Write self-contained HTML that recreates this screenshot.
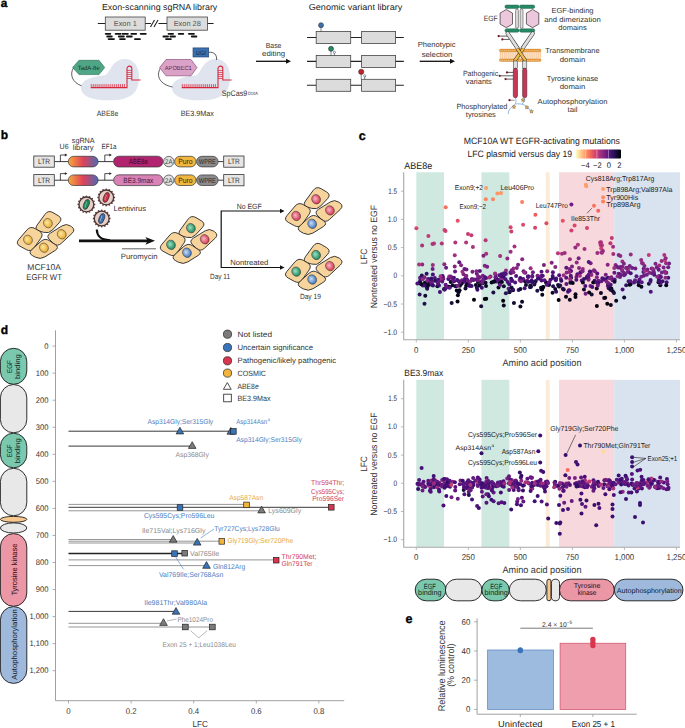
<!DOCTYPE html><html><head><meta charset="utf-8"><style>html,body{margin:0;padding:0;background:#fff;overflow:hidden;width:685px;height:728px;}svg{display:block;}</style></head><body>
<svg text-rendering="geometricPrecision" width="685" height="728" viewBox="0 0 685 728" font-family='"Liberation Sans", sans-serif'>
<defs><linearGradient id="cbar" x1="0" x2="1" y1="0" y2="0"><stop offset="0.00" stop-color="#fbfcbf"/><stop offset="0.10" stop-color="#fdcf92"/><stop offset="0.20" stop-color="#fd9f6c"/><stop offset="0.30" stop-color="#f6705b"/><stop offset="0.40" stop-color="#dd4968"/><stop offset="0.50" stop-color="#b63679"/><stop offset="0.60" stop-color="#8c2980"/><stop offset="0.70" stop-color="#63197f"/><stop offset="0.80" stop-color="#3b0f6f"/><stop offset="0.90" stop-color="#140d35"/><stop offset="1.00" stop-color="#000003"/></linearGradient><linearGradient id="sg" x1="0" x2="1"><stop offset="0" stop-color="#f6a93a"/><stop offset="0.5" stop-color="#e0405a"/><stop offset="1" stop-color="#4a6cb4"/></linearGradient><radialGradient id="ny" cx="0.45" cy="0.4" r="0.6"><stop offset="0" stop-color="#fde7a0"/><stop offset="1" stop-color="#e6a82a"/></radialGradient><radialGradient id="ng" cx="0.45" cy="0.4" r="0.6"><stop offset="0" stop-color="#9fe0c0"/><stop offset="1" stop-color="#13855a"/></radialGradient><radialGradient id="nr" cx="0.45" cy="0.4" r="0.6"><stop offset="0" stop-color="#f8b7c4"/><stop offset="1" stop-color="#d4304e"/></radialGradient><radialGradient id="nb" cx="0.45" cy="0.4" r="0.6"><stop offset="0" stop-color="#c8def6"/><stop offset="1" stop-color="#3a70bc"/></radialGradient></defs>
<rect width="685" height="728" fill="#fff"/>
<text x="0.80" y="6.60" font-size="11.80" fill="#000" font-weight="bold" stroke="#000" stroke-width="0.35">a</text>
<text x="101.90" y="10.30" font-size="8.70" fill="#222" textLength="115.40" lengthAdjust="spacingAndGlyphs">Exon-scanning sgRNA library</text>
<g stroke="#222" stroke-width="1.1" fill="none"><line x1="97.8" y1="23.5" x2="151" y2="23.5"/><line x1="158.5" y1="23.5" x2="213.6" y2="23.5"/><line x1="150.5" y1="27" x2="154.5" y2="20"/><line x1="154" y1="27" x2="158" y2="20"/></g>
<rect x="105.3" y="17" width="39.9" height="13.2" fill="#dcdcdc" stroke="#444" stroke-width="0.8"/>
<text x="125.25" y="26.20" font-size="7.40" fill="#555" text-anchor="middle">Exon 1</text>
<rect x="167" y="17" width="40.5" height="13.2" fill="#dcdcdc" stroke="#444" stroke-width="0.8"/>
<text x="187.25" y="26.20" font-size="7.40" fill="#555" text-anchor="middle">Exon 28</text>
<g stroke="#111" stroke-width="1.8" stroke-linecap="round"><line x1="105.7" y1="33.8" x2="110.3" y2="33.8"/><line x1="115.6" y1="33.8" x2="120.6" y2="33.8"/><line x1="122.5" y1="33.8" x2="127.9" y2="33.8"/><line x1="131.3" y1="33.8" x2="136.2" y2="33.8"/><line x1="140.7" y1="33.8" x2="145.8" y2="33.8"/><line x1="168.5" y1="33.8" x2="173.1" y2="33.8"/><line x1="178.7" y1="33.8" x2="183.3" y2="33.8"/><line x1="188.9" y1="33.8" x2="194.0" y2="33.8"/><line x1="107.2" y1="36.5" x2="111.8" y2="36.5"/><line x1="118.8" y1="36.5" x2="123.9" y2="36.5"/><line x1="126.9" y1="36.5" x2="131.8" y2="36.5"/><line x1="163.4" y1="36.5" x2="168.0" y2="36.5"/><line x1="170.4" y1="36.5" x2="175.0" y2="36.5"/><line x1="191.8" y1="36.5" x2="196.4" y2="36.5"/><line x1="108.6" y1="39.1" x2="114.0" y2="39.1"/><line x1="120.0" y1="39.1" x2="124.9" y2="39.1"/><line x1="134.9" y1="39.1" x2="140.0" y2="39.1"/><line x1="166.0" y1="39.1" x2="170.9" y2="39.1"/></g>
<g transform="translate(0,0)"><path d="M81,89 C80,80 92,76.5 104,75.5 C110,75 110,62 122,59.3 C132,57.5 139.5,65 139,78 C138.5,92 132,99.5 112,100.3 C92,101 82,96 81,89 Z" fill="#dfe4ef"/>
<path d="M90.8,87.6 L127,87.6 L127,80" stroke="#d8283c" stroke-width="1.1" fill="none"/>
<path d="M91.30,87.6 V84.1 M93.25,87.6 V84.1 M95.20,87.6 V84.1 M97.15,87.6 V84.1 M99.10,87.6 V84.1 M101.05,87.6 V84.1 M103.00,87.6 V84.1 M104.95,87.6 V84.1 M106.90,87.6 V84.1 M108.85,87.6 V84.1 M110.80,87.6 V84.1 M112.75,87.6 V84.1 M114.70,87.6 V84.1 M116.65,87.6 V84.1 M118.60,87.6 V84.1 M120.55,87.6 V84.1 M122.50,87.6 V84.1 M124.45,87.6 V84.1 " stroke="#d8283c" stroke-width="0.75" fill="none"/>
<path d="M127,80 V68.5 A2.4,2.4 0 0 1 131.8,68.5 V80 H140.6" stroke="#d8283c" stroke-width="1.1" fill="none"/>
<path d="M127,70.5 H131.8 M127,72.5 H131.8 M127,74.5 H131.8 M127,76.5 H131.8 M127,78.5 H131.8 " stroke="#d8283c" stroke-width="0.7"/>
</g>
<g transform="translate(91,0)"><path d="M81,89 C80,80 92,76.5 104,75.5 C110,75 110,62 122,59.3 C132,57.5 139.5,65 139,78 C138.5,92 132,99.5 112,100.3 C92,101 82,96 81,89 Z" fill="#dfe4ef"/>
<path d="M90.8,87.6 L127,87.6 L127,80" stroke="#d8283c" stroke-width="1.1" fill="none"/>
<path d="M91.30,87.6 V84.1 M93.25,87.6 V84.1 M95.20,87.6 V84.1 M97.15,87.6 V84.1 M99.10,87.6 V84.1 M101.05,87.6 V84.1 M103.00,87.6 V84.1 M104.95,87.6 V84.1 M106.90,87.6 V84.1 M108.85,87.6 V84.1 M110.80,87.6 V84.1 M112.75,87.6 V84.1 M114.70,87.6 V84.1 M116.65,87.6 V84.1 M118.60,87.6 V84.1 M120.55,87.6 V84.1 M122.50,87.6 V84.1 M124.45,87.6 V84.1 " stroke="#d8283c" stroke-width="0.75" fill="none"/>
<path d="M127,80 V68.5 A2.4,2.4 0 0 1 131.8,68.5 V80 H140.6" stroke="#d8283c" stroke-width="1.1" fill="none"/>
<path d="M127,70.5 H131.8 M127,72.5 H131.8 M127,74.5 H131.8 M127,76.5 H131.8 M127,78.5 H131.8 " stroke="#d8283c" stroke-width="0.7"/>
</g>
<path d="M73.5,68 C69.5,74 72,82.5 81.5,85.8" stroke="#333" stroke-width="0.8" fill="none"/>
<polygon points="72.6,67.5 79,60.3 99,60.3 104.7,67.5 99,74.6 79,74.6" fill="#4fa687" stroke="#2a6a52" stroke-width="0.6"/>
<text x="88.70" y="70.10" font-size="6.20" fill="#163a2c" text-anchor="middle" textLength="22.00" lengthAdjust="spacingAndGlyphs">TadA-8e</text>
<path d="M160.5,68 C155.5,76 160,84.5 172.5,87" stroke="#333" stroke-width="0.8" fill="none"/>
<polygon points="159.6,67.6 166,59.5 191,59.5 197,67.6 191,75.8 166,75.8" fill="#dba2c8" stroke="#7c3c6a" stroke-width="0.6"/>
<text x="178.30" y="70.20" font-size="6.00" fill="#5b1e4e" text-anchor="middle" textLength="27.00" lengthAdjust="spacingAndGlyphs">APOBEC1</text>
<path d="M208.7,52.3 C214,51.8 217,54.5 216.6,60" stroke="#333" stroke-width="0.8" fill="none"/>
<rect x="193" y="47.9" width="15.7" height="9.1" fill="#3a6fb0" stroke="#1d3b6a" stroke-width="0.6"/>
<text x="200.85" y="55.20" font-size="6.20" fill="#0d2445" text-anchor="middle" textLength="10.00" lengthAdjust="spacingAndGlyphs">UGI</text>
<text x="221.80" y="96.40" font-size="8.00" fill="#333" textLength="25.40" lengthAdjust="spacingAndGlyphs">SpCas9</text>
<text x="248.00" y="94.50" font-size="4.60" fill="#333" textLength="9.80" lengthAdjust="spacingAndGlyphs">D10A</text>
<text x="107.50" y="115.50" font-size="7.60" fill="#333" text-anchor="middle" textLength="21.50" lengthAdjust="spacingAndGlyphs">ABE8e</text>
<text x="197.30" y="115.50" font-size="7.60" fill="#333" text-anchor="middle" textLength="33.30" lengthAdjust="spacingAndGlyphs">BE3.9Max</text>
<text x="273.60" y="48.20" font-size="7.40" fill="#333" text-anchor="middle" textLength="15.70" lengthAdjust="spacingAndGlyphs">Base</text>
<text x="273.60" y="55.60" font-size="7.40" fill="#333" text-anchor="middle" textLength="23.00" lengthAdjust="spacingAndGlyphs">editing</text>
<line x1="256" y1="61.3" x2="287" y2="61.3" stroke="#111" stroke-width="1.3"/>
<polygon points="286,58.8 291,61.3 286,63.8" fill="#111"/>
<text x="308.70" y="10.30" font-size="8.70" fill="#222" textLength="93.60" lengthAdjust="spacingAndGlyphs">Genomic variant library</text>
<line x1="307" y1="37.5" x2="403.8" y2="37.5" stroke="#222" stroke-width="1.1"/>
<rect x="316.2" y="31.5" width="34.5" height="12" fill="#dcdcdc" stroke="#444" stroke-width="0.8"/>
<rect x="361.6" y="31.5" width="34" height="12" fill="#dcdcdc" stroke="#444" stroke-width="0.8"/>
<line x1="307" y1="61.4" x2="403.8" y2="61.4" stroke="#222" stroke-width="1.1"/>
<rect x="316.2" y="55.4" width="34.5" height="12" fill="#dcdcdc" stroke="#444" stroke-width="0.8"/>
<rect x="361.6" y="55.4" width="34" height="12" fill="#dcdcdc" stroke="#444" stroke-width="0.8"/>
<line x1="307" y1="85.3" x2="403.8" y2="85.3" stroke="#222" stroke-width="1.1"/>
<rect x="316.2" y="79.3" width="34.5" height="12" fill="#dcdcdc" stroke="#444" stroke-width="0.8"/>
<rect x="361.6" y="79.3" width="34" height="12" fill="#dcdcdc" stroke="#444" stroke-width="0.8"/>
<line x1="321" y1="25.2" x2="321" y2="31.5" stroke="#333" stroke-width="0.6"/>
<circle cx="321" cy="25.2" r="2.5" fill="#3f6fae" stroke="#222" stroke-width="0.5"/>
<line x1="331" y1="48.8" x2="331" y2="55.4" stroke="#333" stroke-width="0.6"/>
<circle cx="331" cy="48.8" r="2.5" fill="#238a60" stroke="#222" stroke-width="0.5"/>
<line x1="334.4" y1="52.3" x2="334.4" y2="55.4" stroke="#333" stroke-width="0.6"/>
<circle cx="334.4" cy="52.3" r="1.1" fill="#fff" stroke="#1d3b6a" stroke-width="0.5"/>
<line x1="361.2" y1="71.8" x2="361.2" y2="79.3" stroke="#333" stroke-width="0.6"/>
<circle cx="361.2" cy="71.8" r="2.6" fill="#c41f2b" stroke="#222" stroke-width="0.5"/>
<line x1="364.7" y1="75.8" x2="364.7" y2="79.3" stroke="#333" stroke-width="0.6"/>
<circle cx="364.7" cy="75.8" r="1.1" fill="#fff" stroke="#1d3b6a" stroke-width="0.5"/>
<text x="436.60" y="47.30" font-size="7.40" fill="#333" text-anchor="middle" textLength="37.80" lengthAdjust="spacingAndGlyphs">Phenotypic</text>
<text x="437.00" y="56.50" font-size="7.40" fill="#333" text-anchor="middle" textLength="30.70" lengthAdjust="spacingAndGlyphs">selection</text>
<line x1="419.7" y1="61.3" x2="451" y2="61.3" stroke="#111" stroke-width="1.3"/>
<polygon points="450,58.8 455,61.3 450,63.8" fill="#111"/>
<rect x="504.9" y="5" width="14.2" height="3.4" rx="1.6" fill="#268a66" stroke="#164f3b" stroke-width="0.4"/>
<rect x="504.9" y="28.8" width="14.2" height="3.4" rx="1.6" fill="#268a66" stroke="#164f3b" stroke-width="0.4"/>
<rect x="519.5" y="5" width="15.3" height="3.4" rx="1.6" fill="#268a66" stroke="#164f3b" stroke-width="0.4"/>
<rect x="519.5" y="28.8" width="15.3" height="3.4" rx="1.6" fill="#268a66" stroke="#164f3b" stroke-width="0.4"/>
<polygon points="506.3,9.5 512.5,13.1 512.5,24.1 506.3,27.7 500.1,24.1 500.1,13.1" fill="#ecc8dc" stroke="#3a2a33" stroke-width="0.7"/>
<polygon points="532.6,9.5 538.8,13.1 538.8,24.1 532.6,27.7 526.4,24.1 526.4,13.1" fill="#ecc8dc" stroke="#3a2a33" stroke-width="0.7"/>
<rect x="515.6" y="9" width="2.8" height="19.4" rx="1.4" fill="#dedede" stroke="#333" stroke-width="0.5"/>
<rect x="520.2" y="9" width="2.8" height="19.4" rx="1.4" fill="#dedede" stroke="#333" stroke-width="0.5"/>
<text x="497.70" y="21.00" font-size="7.60" fill="#333" text-anchor="end" textLength="13.90" lengthAdjust="spacingAndGlyphs">EGF</text>
<path d="M507.6,33.4 L517.6,48.2" stroke="#333" stroke-width="4.0" stroke-linecap="round"/>
<path d="M507.6,33.4 L517.6,48.2" stroke="#dedede" stroke-width="2.9" stroke-linecap="round"/>
<path d="M532.8,33.4 L522.6,48.2" stroke="#333" stroke-width="4.0" stroke-linecap="round"/>
<path d="M532.8,33.4 L522.6,48.2" stroke="#dedede" stroke-width="2.9" stroke-linecap="round"/>
<line x1="498.6" y1="36.1" x2="507.2" y2="36.1" stroke="#333" stroke-width="0.8"/>
<circle cx="498.6" cy="36.1" r="1.1" fill="#7a1020"/>
<line x1="502.3" y1="39.4" x2="509.4" y2="39.4" stroke="#333" stroke-width="0.8"/>
<circle cx="502.3" cy="39.4" r="1.1" fill="#7a1020"/>
<rect x="499.4" y="51" width="41.6" height="8.5" fill="#fde6cf"/>
<path d="M500.60,51.5 V58.8 M502.50,51.5 V58.8 M504.40,51.5 V58.8 M506.30,51.5 V58.8 M508.20,51.5 V58.8 M510.10,51.5 V58.8 M512.00,51.5 V58.8 M513.90,51.5 V58.8 M515.80,51.5 V58.8 M517.70,51.5 V58.8 M519.60,51.5 V58.8 M521.50,51.5 V58.8 M523.40,51.5 V58.8 M525.30,51.5 V58.8 M527.20,51.5 V58.8 M529.10,51.5 V58.8 M531.00,51.5 V58.8 M532.90,51.5 V58.8 M534.80,51.5 V58.8 M536.70,51.5 V58.8 M538.60,51.5 V58.8 M540.50,51.5 V58.8 " stroke="#f4b47a" stroke-width="0.55"/>
<rect x="499.4" y="49.1" width="41.6" height="2.6" rx="1.3" fill="#e89a3a" stroke="#b86a1a" stroke-width="0.3"/>
<circle cx="500.80" cy="50.4" r="0.45" fill="#fff1c8"/><circle cx="502.70" cy="50.4" r="0.45" fill="#fff1c8"/><circle cx="504.60" cy="50.4" r="0.45" fill="#fff1c8"/><circle cx="506.50" cy="50.4" r="0.45" fill="#fff1c8"/><circle cx="508.40" cy="50.4" r="0.45" fill="#fff1c8"/><circle cx="510.30" cy="50.4" r="0.45" fill="#fff1c8"/><circle cx="512.20" cy="50.4" r="0.45" fill="#fff1c8"/><circle cx="514.10" cy="50.4" r="0.45" fill="#fff1c8"/><circle cx="516.00" cy="50.4" r="0.45" fill="#fff1c8"/><circle cx="517.90" cy="50.4" r="0.45" fill="#fff1c8"/><circle cx="519.80" cy="50.4" r="0.45" fill="#fff1c8"/><circle cx="521.70" cy="50.4" r="0.45" fill="#fff1c8"/><circle cx="523.60" cy="50.4" r="0.45" fill="#fff1c8"/><circle cx="525.50" cy="50.4" r="0.45" fill="#fff1c8"/><circle cx="527.40" cy="50.4" r="0.45" fill="#fff1c8"/><circle cx="529.30" cy="50.4" r="0.45" fill="#fff1c8"/><circle cx="531.20" cy="50.4" r="0.45" fill="#fff1c8"/><circle cx="533.10" cy="50.4" r="0.45" fill="#fff1c8"/><circle cx="535.00" cy="50.4" r="0.45" fill="#fff1c8"/><circle cx="536.90" cy="50.4" r="0.45" fill="#fff1c8"/><circle cx="538.80" cy="50.4" r="0.45" fill="#fff1c8"/>
<rect x="499.4" y="58.900000000000006" width="41.6" height="2.6" rx="1.3" fill="#e89a3a" stroke="#b86a1a" stroke-width="0.3"/>
<circle cx="500.80" cy="60.2" r="0.45" fill="#fff1c8"/><circle cx="502.70" cy="60.2" r="0.45" fill="#fff1c8"/><circle cx="504.60" cy="60.2" r="0.45" fill="#fff1c8"/><circle cx="506.50" cy="60.2" r="0.45" fill="#fff1c8"/><circle cx="508.40" cy="60.2" r="0.45" fill="#fff1c8"/><circle cx="510.30" cy="60.2" r="0.45" fill="#fff1c8"/><circle cx="512.20" cy="60.2" r="0.45" fill="#fff1c8"/><circle cx="514.10" cy="60.2" r="0.45" fill="#fff1c8"/><circle cx="516.00" cy="60.2" r="0.45" fill="#fff1c8"/><circle cx="517.90" cy="60.2" r="0.45" fill="#fff1c8"/><circle cx="519.80" cy="60.2" r="0.45" fill="#fff1c8"/><circle cx="521.70" cy="60.2" r="0.45" fill="#fff1c8"/><circle cx="523.60" cy="60.2" r="0.45" fill="#fff1c8"/><circle cx="525.50" cy="60.2" r="0.45" fill="#fff1c8"/><circle cx="527.40" cy="60.2" r="0.45" fill="#fff1c8"/><circle cx="529.30" cy="60.2" r="0.45" fill="#fff1c8"/><circle cx="531.20" cy="60.2" r="0.45" fill="#fff1c8"/><circle cx="533.10" cy="60.2" r="0.45" fill="#fff1c8"/><circle cx="535.00" cy="60.2" r="0.45" fill="#fff1c8"/><circle cx="536.90" cy="60.2" r="0.45" fill="#fff1c8"/><circle cx="538.80" cy="60.2" r="0.45" fill="#fff1c8"/>
<path d="M523.2,48.6 L514.6,61" stroke="#3a2a10" stroke-width="3.4"/>
<path d="M523.2,48.6 L514.6,61" stroke="#f0be4c" stroke-width="2.4"/>
<path d="M517.2,48.6 L525.8,61" stroke="#3a2a10" stroke-width="3.4"/>
<path d="M517.2,48.6 L525.8,61" stroke="#f0be4c" stroke-width="2.4"/>
<rect x="513.3" y="61" width="4.2" height="7.4" fill="#dedede" stroke="#333" stroke-width="0.5"/>
<rect x="513.3" y="68.2" width="4.2" height="29.6" rx="2.1" fill="#c8365a" stroke="#3a1018" stroke-width="0.5"/>
<rect x="522.6" y="61" width="4.2" height="7.4" fill="#dedede" stroke="#333" stroke-width="0.5"/>
<rect x="522.6" y="68.2" width="4.2" height="29.6" rx="2.1" fill="#c8365a" stroke="#3a1018" stroke-width="0.5"/>
<line x1="507" y1="72.4" x2="513.3" y2="72.4" stroke="#333" stroke-width="0.8"/>
<circle cx="507" cy="72.4" r="1.1" fill="#7a1020"/>
<line x1="499.7" y1="75.8" x2="513.3" y2="75.8" stroke="#333" stroke-width="0.8"/>
<circle cx="499.7" cy="75.8" r="1.1" fill="#7a1020"/>
<line x1="505.5" y1="79.1" x2="513.3" y2="79.1" stroke="#333" stroke-width="0.8"/>
<circle cx="505.5" cy="79.1" r="1.1" fill="#7a1020"/>
<path d="M515.5,98 C516.5,102 516,104 512.5,106.5 C509.5,108.5 508.2,111 508.2,114" stroke="#4a8ad0" stroke-width="0.6" fill="none"/>
<path d="M515.5,104 C520,103.5 524,104 527,107 L532.5,112" stroke="#4a8ad0" stroke-width="0.6" fill="none"/>
<path d="M524.7,98 C524.7,100 524.5,102 522,104" stroke="#4a8ad0" stroke-width="0.6" fill="none"/>
<line x1="510" y1="100.2" x2="514.5" y2="100.2" stroke="#444" stroke-width="0.6"/><circle cx="509.5" cy="100.2" r="1.1" fill="#7a1020"/>
<polygon points="514.00,104.90 514.53,106.17 515.90,106.28 514.86,107.18 515.18,108.52 514.00,107.80 512.82,108.52 513.14,107.18 512.10,106.28 513.47,106.17" fill="#f0c050" stroke="#5a3a10" stroke-width="0.4"/>
<polygon points="523.00,98.00 523.53,99.27 524.90,99.38 523.86,100.28 524.18,101.62 523.00,100.90 521.82,101.62 522.14,100.28 521.10,99.38 522.47,99.27" fill="#f0c050" stroke="#5a3a10" stroke-width="0.4"/>
<polygon points="526.90,105.40 527.43,106.67 528.80,106.78 527.76,107.68 528.08,109.02 526.90,108.30 525.72,109.02 526.04,107.68 525.00,106.78 526.37,106.67" fill="#f0c050" stroke="#5a3a10" stroke-width="0.4"/>
<polygon points="531.50,109.50 532.03,110.77 533.40,110.88 532.36,111.78 532.68,113.12 531.50,112.40 530.32,113.12 530.64,111.78 529.60,110.88 530.97,110.77" fill="#f0c050" stroke="#5a3a10" stroke-width="0.4"/>
<text x="498.20" y="76.30" font-size="7.56" fill="#333" text-anchor="end" textLength="35.30" lengthAdjust="spacingAndGlyphs">Pathogenic</text>
<text x="478.80" y="84.40" font-size="7.56" fill="#333" text-anchor="middle" textLength="26.00" lengthAdjust="spacingAndGlyphs">variants</text>
<text x="507.40" y="109.00" font-size="7.56" fill="#333" text-anchor="end" textLength="51.00" lengthAdjust="spacingAndGlyphs">Phosphorylated</text>
<text x="480.80" y="116.50" font-size="7.56" fill="#333" text-anchor="middle" textLength="30.00" lengthAdjust="spacingAndGlyphs">tyrosines</text>
<text x="572.50" y="13.30" font-size="7.30" fill="#333" text-anchor="middle" textLength="42.00" lengthAdjust="spacingAndGlyphs">EGF-binding</text>
<text x="572.50" y="21.80" font-size="7.30" fill="#333" text-anchor="middle" textLength="56.70" lengthAdjust="spacingAndGlyphs">and dimerization</text>
<text x="572.50" y="30.40" font-size="7.30" fill="#333" text-anchor="middle" textLength="28.50" lengthAdjust="spacingAndGlyphs">domains</text>
<text x="572.50" y="53.20" font-size="7.30" fill="#333" text-anchor="middle" textLength="54.30" lengthAdjust="spacingAndGlyphs">Transmembrane</text>
<text x="572.50" y="61.70" font-size="7.30" fill="#333" text-anchor="middle" textLength="25.50" lengthAdjust="spacingAndGlyphs">domain</text>
<text x="572.50" y="81.00" font-size="7.30" fill="#333" text-anchor="middle" textLength="51.40" lengthAdjust="spacingAndGlyphs">Tyrosine kinase</text>
<text x="572.50" y="89.40" font-size="7.30" fill="#333" text-anchor="middle" textLength="25.50" lengthAdjust="spacingAndGlyphs">domain</text>
<text x="572.50" y="103.80" font-size="7.30" fill="#333" text-anchor="middle" textLength="69.80" lengthAdjust="spacingAndGlyphs">Autophosphorylation</text>
<text x="572.50" y="112.10" font-size="7.30" fill="#333" text-anchor="middle" textLength="10.00" lengthAdjust="spacingAndGlyphs">tail</text>
<text x="0.80" y="139.40" font-size="12.00" fill="#000" font-weight="bold" stroke="#000" stroke-width="0.35">b</text>
<line x1="54.3" y1="161.6" x2="68.3" y2="161.6" stroke="#222" stroke-width="0.9"/>
<line x1="98" y1="161.6" x2="113.6" y2="161.6" stroke="#222" stroke-width="0.9"/>
<line x1="218" y1="161.6" x2="223.7" y2="161.6" stroke="#222" stroke-width="0.9"/>
<rect x="33.8" y="156.0" width="20.5" height="11.2" fill="#e6e6e6" stroke="#333" stroke-width="0.8"/>
<text x="44.00" y="164.20" font-size="7.70" fill="#333" text-anchor="middle" textLength="12.00" lengthAdjust="spacingAndGlyphs">LTR</text>
<rect x="223.7" y="156.0" width="20.3" height="11.2" fill="#e6e6e6" stroke="#333" stroke-width="0.8"/>
<text x="233.90" y="164.20" font-size="7.70" fill="#333" text-anchor="middle" textLength="12.00" lengthAdjust="spacingAndGlyphs">LTR</text>
<path d="M60.4,161.6 V155.0 H65.4" stroke="#222" stroke-width="0.8" fill="none"/>
<polygon points="64.9,153.6 67.4,155.0 64.9,156.4" fill="#222"/>
<path d="M104.8,161.6 V155.0 H109.8" stroke="#222" stroke-width="0.8" fill="none"/>
<polygon points="109.3,153.6 111.8,155.0 109.3,156.4" fill="#222"/>
<rect x="68.3" y="156.29999999999998" width="29.8" height="10.6" rx="5.3" fill="url(#sg)" stroke="#333" stroke-width="0.7"/>
<rect x="113.6" y="156.2" width="49.4" height="10.8" rx="5.4" fill="#b2246f" stroke="#333" stroke-width="0.7"/>
<text x="138.30" y="164.10" font-size="7.49" fill="#3a0a25" text-anchor="middle" textLength="19.00" lengthAdjust="spacingAndGlyphs">ABE8e</text>
<circle cx="168.8" cy="161.6" r="5.2" fill="#e2e2e2" stroke="#333" stroke-width="0.7"/>
<text x="168.80" y="164.00" font-size="6.96" fill="#333" text-anchor="middle" textLength="7.50" lengthAdjust="spacingAndGlyphs">2A</text>
<rect x="174.6" y="156.29999999999998" width="21.5" height="10.6" rx="5.3" fill="#f2b53e" stroke="#333" stroke-width="0.7"/>
<text x="185.40" y="164.10" font-size="7.49" fill="#3a2a00" text-anchor="middle" textLength="14.50" lengthAdjust="spacingAndGlyphs">Puro</text>
<rect x="196.6" y="156.29999999999998" width="21.5" height="10.6" rx="5.3" fill="#8c8c8c" stroke="#333" stroke-width="0.7"/>
<text x="207.30" y="164.10" font-size="6.96" fill="#222" text-anchor="middle" textLength="17.00" lengthAdjust="spacingAndGlyphs">WPRE</text>
<line x1="54.3" y1="180.2" x2="68.3" y2="180.2" stroke="#222" stroke-width="0.9"/>
<line x1="98" y1="180.2" x2="113.6" y2="180.2" stroke="#222" stroke-width="0.9"/>
<line x1="218" y1="180.2" x2="223.7" y2="180.2" stroke="#222" stroke-width="0.9"/>
<rect x="33.8" y="174.6" width="20.5" height="11.2" fill="#e6e6e6" stroke="#333" stroke-width="0.8"/>
<text x="44.00" y="182.80" font-size="7.70" fill="#333" text-anchor="middle" textLength="12.00" lengthAdjust="spacingAndGlyphs">LTR</text>
<rect x="223.7" y="174.6" width="20.3" height="11.2" fill="#e6e6e6" stroke="#333" stroke-width="0.8"/>
<text x="233.90" y="182.80" font-size="7.70" fill="#333" text-anchor="middle" textLength="12.00" lengthAdjust="spacingAndGlyphs">LTR</text>
<path d="M60.4,180.2 V173.6 H65.4" stroke="#222" stroke-width="0.8" fill="none"/>
<polygon points="64.9,172.2 67.4,173.6 64.9,175.0" fill="#222"/>
<path d="M104.8,180.2 V173.6 H109.8" stroke="#222" stroke-width="0.8" fill="none"/>
<polygon points="109.3,172.2 111.8,173.6 109.3,175.0" fill="#222"/>
<rect x="68.3" y="174.89999999999998" width="29.8" height="10.6" rx="5.3" fill="url(#sg)" stroke="#333" stroke-width="0.7"/>
<rect x="113.6" y="174.79999999999998" width="49.4" height="10.8" rx="5.4" fill="#d882b6" stroke="#333" stroke-width="0.7"/>
<text x="138.30" y="182.70" font-size="7.49" fill="#4a1a3a" text-anchor="middle" textLength="30.00" lengthAdjust="spacingAndGlyphs">BE3.9max</text>
<circle cx="168.8" cy="180.2" r="5.2" fill="#e2e2e2" stroke="#333" stroke-width="0.7"/>
<text x="168.80" y="182.60" font-size="6.96" fill="#333" text-anchor="middle" textLength="7.50" lengthAdjust="spacingAndGlyphs">2A</text>
<rect x="174.6" y="174.89999999999998" width="21.5" height="10.6" rx="5.3" fill="#f2b53e" stroke="#333" stroke-width="0.7"/>
<text x="185.40" y="182.70" font-size="7.49" fill="#3a2a00" text-anchor="middle" textLength="14.50" lengthAdjust="spacingAndGlyphs">Puro</text>
<rect x="196.6" y="174.89999999999998" width="21.5" height="10.6" rx="5.3" fill="#8c8c8c" stroke="#333" stroke-width="0.7"/>
<text x="207.30" y="182.70" font-size="6.96" fill="#222" text-anchor="middle" textLength="17.00" lengthAdjust="spacingAndGlyphs">WPRE</text>
<text x="64.10" y="148.90" font-size="7.49" fill="#333" text-anchor="middle" textLength="9.00" lengthAdjust="spacingAndGlyphs">U6</text>
<text x="83.20" y="142.80" font-size="7.49" fill="#333" text-anchor="middle" textLength="22.80" lengthAdjust="spacingAndGlyphs">sgRNA</text>
<text x="83.20" y="150.30" font-size="7.49" fill="#333" text-anchor="middle" textLength="21.00" lengthAdjust="spacingAndGlyphs">library</text>
<text x="109.00" y="148.90" font-size="7.49" fill="#333" text-anchor="middle" textLength="14.90" lengthAdjust="spacingAndGlyphs">EF1a</text>
<circle cx="94.50" cy="204.40" r="0.9" fill="#6a4a4a"/><circle cx="93.88" cy="207.50" r="0.9" fill="#6a4a4a"/><circle cx="92.13" cy="210.13" r="0.9" fill="#6a4a4a"/><circle cx="89.50" cy="211.88" r="0.9" fill="#6a4a4a"/><circle cx="86.40" cy="212.50" r="0.9" fill="#6a4a4a"/><circle cx="83.30" cy="211.88" r="0.9" fill="#6a4a4a"/><circle cx="80.67" cy="210.13" r="0.9" fill="#6a4a4a"/><circle cx="78.92" cy="207.50" r="0.9" fill="#6a4a4a"/><circle cx="78.30" cy="204.40" r="0.9" fill="#6a4a4a"/><circle cx="78.92" cy="201.30" r="0.9" fill="#6a4a4a"/><circle cx="80.67" cy="198.67" r="0.9" fill="#6a4a4a"/><circle cx="83.30" cy="196.92" r="0.9" fill="#6a4a4a"/><circle cx="86.40" cy="196.30" r="0.9" fill="#6a4a4a"/><circle cx="89.50" cy="196.92" r="0.9" fill="#6a4a4a"/><circle cx="92.13" cy="198.67" r="0.9" fill="#6a4a4a"/><circle cx="93.88" cy="201.30" r="0.9" fill="#6a4a4a"/>
<circle cx="86.4" cy="204.4" r="7.4" fill="#e7cfc9" stroke="#4a3535" stroke-width="1.3"/>
<ellipse cx="86.4" cy="204.4" rx="2.6" ry="5.2" fill="#1f8a5e" stroke="#222" stroke-width="0.6" transform="rotate(20 86.4 204.4)"/>
<path d="M85.80000000000001,201.4 q1.5,1.5 0,3 q-1.5,1.5 0,3" stroke="#fff" stroke-width="0.5" fill="none" opacity="0.8"/>
<circle cx="114.30" cy="197.40" r="0.9" fill="#6a4a4a"/><circle cx="113.68" cy="200.50" r="0.9" fill="#6a4a4a"/><circle cx="111.93" cy="203.13" r="0.9" fill="#6a4a4a"/><circle cx="109.30" cy="204.88" r="0.9" fill="#6a4a4a"/><circle cx="106.20" cy="205.50" r="0.9" fill="#6a4a4a"/><circle cx="103.10" cy="204.88" r="0.9" fill="#6a4a4a"/><circle cx="100.47" cy="203.13" r="0.9" fill="#6a4a4a"/><circle cx="98.72" cy="200.50" r="0.9" fill="#6a4a4a"/><circle cx="98.10" cy="197.40" r="0.9" fill="#6a4a4a"/><circle cx="98.72" cy="194.30" r="0.9" fill="#6a4a4a"/><circle cx="100.47" cy="191.67" r="0.9" fill="#6a4a4a"/><circle cx="103.10" cy="189.92" r="0.9" fill="#6a4a4a"/><circle cx="106.20" cy="189.30" r="0.9" fill="#6a4a4a"/><circle cx="109.30" cy="189.92" r="0.9" fill="#6a4a4a"/><circle cx="111.93" cy="191.67" r="0.9" fill="#6a4a4a"/><circle cx="113.68" cy="194.30" r="0.9" fill="#6a4a4a"/>
<circle cx="106.2" cy="197.4" r="7.4" fill="#e7cfc9" stroke="#4a3535" stroke-width="1.3"/>
<ellipse cx="106.2" cy="197.4" rx="2.6" ry="5.2" fill="#c83048" stroke="#222" stroke-width="0.6" transform="rotate(20 106.2 197.4)"/>
<path d="M105.60000000000001,194.4 q1.5,1.5 0,3 q-1.5,1.5 0,3" stroke="#fff" stroke-width="0.5" fill="none" opacity="0.8"/>
<circle cx="109.80" cy="218.50" r="0.9" fill="#6a4a4a"/><circle cx="109.18" cy="221.60" r="0.9" fill="#6a4a4a"/><circle cx="107.43" cy="224.23" r="0.9" fill="#6a4a4a"/><circle cx="104.80" cy="225.98" r="0.9" fill="#6a4a4a"/><circle cx="101.70" cy="226.60" r="0.9" fill="#6a4a4a"/><circle cx="98.60" cy="225.98" r="0.9" fill="#6a4a4a"/><circle cx="95.97" cy="224.23" r="0.9" fill="#6a4a4a"/><circle cx="94.22" cy="221.60" r="0.9" fill="#6a4a4a"/><circle cx="93.60" cy="218.50" r="0.9" fill="#6a4a4a"/><circle cx="94.22" cy="215.40" r="0.9" fill="#6a4a4a"/><circle cx="95.97" cy="212.77" r="0.9" fill="#6a4a4a"/><circle cx="98.60" cy="211.02" r="0.9" fill="#6a4a4a"/><circle cx="101.70" cy="210.40" r="0.9" fill="#6a4a4a"/><circle cx="104.80" cy="211.02" r="0.9" fill="#6a4a4a"/><circle cx="107.43" cy="212.77" r="0.9" fill="#6a4a4a"/><circle cx="109.18" cy="215.40" r="0.9" fill="#6a4a4a"/>
<circle cx="101.7" cy="218.5" r="7.4" fill="#e7cfc9" stroke="#4a3535" stroke-width="1.3"/>
<ellipse cx="101.7" cy="218.5" rx="2.6" ry="5.2" fill="#3a6fb0" stroke="#222" stroke-width="0.6" transform="rotate(20 101.7 218.5)"/>
<path d="M101.10000000000001,215.5 q1.5,1.5 0,3 q-1.5,1.5 0,3" stroke="#fff" stroke-width="0.5" fill="none" opacity="0.8"/>
<text x="113.60" y="211.40" font-size="7.70" fill="#333" textLength="32.40" lengthAdjust="spacingAndGlyphs">Lentivirus</text>
<path d="M96.8,229.5 C97,236 100,239.8 110,240.4" stroke="#111" stroke-width="2.2" fill="none"/>
<line x1="79" y1="240.8" x2="149" y2="240.8" stroke="#111" stroke-width="2.8"/>
<polygon points="145.3,236.9 155,240.8 145.3,244.7 147.8,240.8" fill="#111"/>
<line x1="122" y1="248.8" x2="156" y2="248.8" stroke="#222" stroke-width="0.7"/>
<text x="139.20" y="258.70" font-size="7.70" fill="#333" text-anchor="middle" textLength="36.80" lengthAdjust="spacingAndGlyphs">Puromycin</text>
<text x="44.10" y="269.80" font-size="8.56" fill="#333" text-anchor="middle" textLength="33.50" lengthAdjust="spacingAndGlyphs">MCF10A</text>
<text x="44.10" y="279.60" font-size="8.56" fill="#333" text-anchor="middle" textLength="35.50" lengthAdjust="spacingAndGlyphs">EGFR WT</text>
<g transform="translate(44.7,235.7)"><path d="M0.31,-21.44 Q3.56,-25.88 8.28,-23.08 L13.59,-19.93 Q18.31,-17.12 14.59,-13.08 L7.88,-5.81 Q4.15,-1.77 -1.10,-3.38 L-5.47,-4.71 Q-10.72,-6.33 -7.48,-10.77 Z" fill="#f7d49c" stroke="#1a1a1a" stroke-width="0.85"/><ellipse cx="3.21" cy="-12.54" rx="4.3" ry="4.8" fill="url(#ny)" stroke="#333" stroke-width="0.5" transform="rotate(-30 3.21 -12.54)"/><path d="M-24.67,10.52 Q-29.49,7.89 -25.91,3.72 L-17.84,-5.70 Q-14.26,-9.87 -9.51,-7.10 L-5.44,-4.72 Q-0.70,-1.95 -3.85,2.55 L-10.50,12.03 Q-13.66,16.53 -18.48,13.90 Z" fill="#f7d49c" stroke="#1a1a1a" stroke-width="0.85"/><ellipse cx="-16.71" cy="4.12" rx="4.3" ry="4.8" fill="url(#ny)" stroke="#333" stroke-width="0.5" transform="rotate(-30 -16.71 4.12)"/><path d="M4.98,4.12 Q0.99,0.34 5.66,-2.56 L17.46,-9.88 Q21.87,-12.62 26.07,-9.57 L26.91,-8.95 Q31.11,-5.90 27.32,-2.35 L16.65,7.62 Q12.63,11.38 8.64,7.60 Z" fill="#f7d49c" stroke="#1a1a1a" stroke-width="0.85"/><ellipse cx="17.02" cy="-1.40" rx="4.3" ry="4.8" fill="url(#ny)" stroke="#333" stroke-width="0.5" transform="rotate(-30 17.02 -1.40)"/><path d="M-12.03,20.02 Q-16.86,17.39 -12.76,13.72 L-3.80,5.70 Q0.30,2.03 4.88,5.08 L10.48,8.82 Q15.06,11.87 10.40,14.79 L0.16,21.19 Q-4.50,24.11 -9.33,21.48 Z" fill="#f7d49c" stroke="#1a1a1a" stroke-width="0.85"/><ellipse cx="-0.75" cy="12.02" rx="4.3" ry="4.8" fill="url(#ny)" stroke="#333" stroke-width="0.5" transform="rotate(-30 -0.75 12.02)"/></g>
<g transform="translate(187.7,240.7)"><path d="M0.31,-21.44 Q3.56,-25.88 8.28,-23.08 L13.59,-19.93 Q18.31,-17.12 14.59,-13.08 L7.88,-5.81 Q4.15,-1.77 -1.10,-3.38 L-5.47,-4.71 Q-10.72,-6.33 -7.48,-10.77 Z" fill="#f7d49c" stroke="#1a1a1a" stroke-width="0.85"/><ellipse cx="3.21" cy="-12.54" rx="4.3" ry="4.8" fill="url(#ng)" stroke="#333" stroke-width="0.5" transform="rotate(-30 3.21 -12.54)"/><path d="M-24.67,10.52 Q-29.49,7.89 -25.91,3.72 L-17.84,-5.70 Q-14.26,-9.87 -9.51,-7.10 L-5.44,-4.72 Q-0.70,-1.95 -3.85,2.55 L-10.50,12.03 Q-13.66,16.53 -18.48,13.90 Z" fill="#f7d49c" stroke="#1a1a1a" stroke-width="0.85"/><ellipse cx="-16.71" cy="4.12" rx="4.3" ry="4.8" fill="url(#ng)" stroke="#333" stroke-width="0.5" transform="rotate(-30 -16.71 4.12)"/><path d="M4.98,4.12 Q0.99,0.34 5.66,-2.56 L17.46,-9.88 Q21.87,-12.62 26.07,-9.57 L26.91,-8.95 Q31.11,-5.90 27.32,-2.35 L16.65,7.62 Q12.63,11.38 8.64,7.60 Z" fill="#f7d49c" stroke="#1a1a1a" stroke-width="0.85"/><ellipse cx="17.02" cy="-1.40" rx="4.3" ry="4.8" fill="url(#nr)" stroke="#333" stroke-width="0.5" transform="rotate(-30 17.02 -1.40)"/><path d="M-12.03,20.02 Q-16.86,17.39 -12.76,13.72 L-3.80,5.70 Q0.30,2.03 4.88,5.08 L10.48,8.82 Q15.06,11.87 10.40,14.79 L0.16,21.19 Q-4.50,24.11 -9.33,21.48 Z" fill="#f7d49c" stroke="#1a1a1a" stroke-width="0.85"/><ellipse cx="-0.75" cy="12.02" rx="4.3" ry="4.8" fill="url(#nb)" stroke="#333" stroke-width="0.5" transform="rotate(-30 -0.75 12.02)"/></g>
<g transform="translate(312.9,211.8)"><path d="M0.31,-21.44 Q3.56,-25.88 8.28,-23.08 L13.59,-19.93 Q18.31,-17.12 14.59,-13.08 L7.88,-5.81 Q4.15,-1.77 -1.10,-3.38 L-5.47,-4.71 Q-10.72,-6.33 -7.48,-10.77 Z" fill="#f7d49c" stroke="#1a1a1a" stroke-width="0.85"/><ellipse cx="3.21" cy="-12.54" rx="4.3" ry="4.8" fill="url(#nr)" stroke="#333" stroke-width="0.5" transform="rotate(-30 3.21 -12.54)"/><path d="M-24.67,10.52 Q-29.49,7.89 -25.91,3.72 L-17.84,-5.70 Q-14.26,-9.87 -9.51,-7.10 L-5.44,-4.72 Q-0.70,-1.95 -3.85,2.55 L-10.50,12.03 Q-13.66,16.53 -18.48,13.90 Z" fill="#f7d49c" stroke="#1a1a1a" stroke-width="0.85"/><ellipse cx="-16.71" cy="4.12" rx="4.3" ry="4.8" fill="url(#nr)" stroke="#333" stroke-width="0.5" transform="rotate(-30 -16.71 4.12)"/><path d="M4.98,4.12 Q0.99,0.34 5.66,-2.56 L17.46,-9.88 Q21.87,-12.62 26.07,-9.57 L26.91,-8.95 Q31.11,-5.90 27.32,-2.35 L16.65,7.62 Q12.63,11.38 8.64,7.60 Z" fill="#f7d49c" stroke="#1a1a1a" stroke-width="0.85"/><ellipse cx="17.02" cy="-1.40" rx="4.3" ry="4.8" fill="url(#nr)" stroke="#333" stroke-width="0.5" transform="rotate(-30 17.02 -1.40)"/><path d="M-12.03,20.02 Q-16.86,17.39 -12.76,13.72 L-3.80,5.70 Q0.30,2.03 4.88,5.08 L10.48,8.82 Q15.06,11.87 10.40,14.79 L0.16,21.19 Q-4.50,24.11 -9.33,21.48 Z" fill="#f7d49c" stroke="#1a1a1a" stroke-width="0.85"/><ellipse cx="-0.75" cy="12.02" rx="4.3" ry="4.8" fill="url(#nb)" stroke="#333" stroke-width="0.5" transform="rotate(-30 -0.75 12.02)"/></g>
<g transform="translate(312.9,267.5)"><path d="M0.31,-21.44 Q3.56,-25.88 8.28,-23.08 L13.59,-19.93 Q18.31,-17.12 14.59,-13.08 L7.88,-5.81 Q4.15,-1.77 -1.10,-3.38 L-5.47,-4.71 Q-10.72,-6.33 -7.48,-10.77 Z" fill="#f7d49c" stroke="#1a1a1a" stroke-width="0.85"/><ellipse cx="3.21" cy="-12.54" rx="4.3" ry="4.8" fill="url(#ng)" stroke="#333" stroke-width="0.5" transform="rotate(-30 3.21 -12.54)"/><path d="M-24.67,10.52 Q-29.49,7.89 -25.91,3.72 L-17.84,-5.70 Q-14.26,-9.87 -9.51,-7.10 L-5.44,-4.72 Q-0.70,-1.95 -3.85,2.55 L-10.50,12.03 Q-13.66,16.53 -18.48,13.90 Z" fill="#f7d49c" stroke="#1a1a1a" stroke-width="0.85"/><ellipse cx="-16.71" cy="4.12" rx="4.3" ry="4.8" fill="url(#ng)" stroke="#333" stroke-width="0.5" transform="rotate(-30 -16.71 4.12)"/><path d="M4.98,4.12 Q0.99,0.34 5.66,-2.56 L17.46,-9.88 Q21.87,-12.62 26.07,-9.57 L26.91,-8.95 Q31.11,-5.90 27.32,-2.35 L16.65,7.62 Q12.63,11.38 8.64,7.60 Z" fill="#f7d49c" stroke="#1a1a1a" stroke-width="0.85"/><ellipse cx="17.02" cy="-1.40" rx="4.3" ry="4.8" fill="url(#nr)" stroke="#333" stroke-width="0.5" transform="rotate(-30 17.02 -1.40)"/><path d="M-12.03,20.02 Q-16.86,17.39 -12.76,13.72 L-3.80,5.70 Q0.30,2.03 4.88,5.08 L10.48,8.82 Q15.06,11.87 10.40,14.79 L0.16,21.19 Q-4.50,24.11 -9.33,21.48 Z" fill="#f7d49c" stroke="#1a1a1a" stroke-width="0.85"/><ellipse cx="-0.75" cy="12.02" rx="4.3" ry="4.8" fill="url(#nb)" stroke="#333" stroke-width="0.5" transform="rotate(-30 -0.75 12.02)"/></g>
<path d="M282,211 H221.2 V267.5 H282" stroke="#111" stroke-width="1.2" fill="none"/>
<polygon points="280,208.8 284.5,211 280,213.2" fill="#111"/>
<polygon points="280,265.3 284.5,267.5 280,269.7" fill="#111"/>
<text x="249.20" y="208.80" font-size="7.49" fill="#333" text-anchor="middle" textLength="25.00" lengthAdjust="spacingAndGlyphs">No EGF</text>
<text x="249.20" y="265.00" font-size="7.49" fill="#333" text-anchor="middle" textLength="38.00" lengthAdjust="spacingAndGlyphs">Nontreated</text>
<text x="220.00" y="279.20" font-size="7.49" fill="#333" text-anchor="middle" textLength="20.00" lengthAdjust="spacingAndGlyphs">Day 11</text>
<text x="310.40" y="299.20" font-size="7.49" fill="#333" text-anchor="middle" textLength="21.00" lengthAdjust="spacingAndGlyphs">Day 19</text>
<text x="358.80" y="139.80" font-size="12.50" fill="#000" font-weight="bold" stroke="#000" stroke-width="0.35">c</text>
<text x="463.70" y="143.80" font-size="9.20" fill="#222" textLength="156.30" lengthAdjust="spacingAndGlyphs">MCF10A WT EGFR-activating mutations</text>
<text x="467.40" y="157.00" font-size="9.20" fill="#222" textLength="104.80" lengthAdjust="spacingAndGlyphs">LFC plasmid versus day 19</text>
<rect x="576" y="149.6" width="45" height="8.8" rx="1" fill="url(#cbar)"/>
<g stroke="#fff" stroke-width="0.5" opacity="0.8"><line x1="585.3" y1="149.6" x2="585.3" y2="158.4"/><line x1="596.9" y1="149.6" x2="596.9" y2="158.4"/><line x1="608.6" y1="149.6" x2="608.6" y2="158.4"/></g>
<text x="585.30" y="167.50" font-size="8.13" fill="#222" text-anchor="middle" textLength="8.67" lengthAdjust="spacingAndGlyphs">−4</text>
<text x="597.30" y="167.50" font-size="8.13" fill="#222" text-anchor="middle" textLength="8.67" lengthAdjust="spacingAndGlyphs">−2</text>
<text x="608.80" y="167.50" font-size="8.13" fill="#222" text-anchor="middle" textLength="4.23" lengthAdjust="spacingAndGlyphs">0</text>
<text x="619.40" y="167.50" font-size="8.13" fill="#222" text-anchor="middle" textLength="4.23" lengthAdjust="spacingAndGlyphs">2</text>
<rect x="416.30" y="172.3" width="27.68" height="167.4" fill="#cfe8e0"/>
<rect x="481.44" y="172.3" width="27.89" height="167.4" fill="#cfe8e0"/>
<rect x="545.74" y="172.3" width="3.95" height="167.4" fill="#fcebd6"/>
<rect x="559.06" y="172.3" width="55.15" height="167.4" fill="#f7d8dc"/>
<rect x="614.20" y="172.3" width="65.76" height="167.4" fill="#d9e3ef"/>
<path d="M403.7,172.3 V339.7 H680" stroke="#a8a8a8" stroke-width="1.1" fill="none"/>
<line x1="400.9" y1="191.20" x2="403.7" y2="191.20" stroke="#a8a8a8" stroke-width="0.8"/>
<text x="397.00" y="193.70" font-size="7.92" fill="#333" text-anchor="end" textLength="8.70" lengthAdjust="spacingAndGlyphs">1.5</text>
<line x1="400.9" y1="219.40" x2="403.7" y2="219.40" stroke="#a8a8a8" stroke-width="0.8"/>
<text x="397.00" y="221.90" font-size="7.92" fill="#333" text-anchor="end" textLength="9.30" lengthAdjust="spacingAndGlyphs">1.0</text>
<line x1="400.9" y1="247.60" x2="403.7" y2="247.60" stroke="#a8a8a8" stroke-width="0.8"/>
<text x="397.00" y="250.10" font-size="7.92" fill="#333" text-anchor="end" textLength="9.30" lengthAdjust="spacingAndGlyphs">0.5</text>
<line x1="400.9" y1="275.80" x2="403.7" y2="275.80" stroke="#a8a8a8" stroke-width="0.8"/>
<text x="397.00" y="278.30" font-size="7.92" fill="#333" text-anchor="end" textLength="3.60" lengthAdjust="spacingAndGlyphs">0</text>
<line x1="400.9" y1="304.00" x2="403.7" y2="304.00" stroke="#a8a8a8" stroke-width="0.8"/>
<text x="397.00" y="306.50" font-size="7.92" fill="#333" text-anchor="end" textLength="13.50" lengthAdjust="spacingAndGlyphs">−0.5</text>
<line x1="400.9" y1="332.20" x2="403.7" y2="332.20" stroke="#a8a8a8" stroke-width="0.8"/>
<text x="397.00" y="334.70" font-size="7.92" fill="#333" text-anchor="end" textLength="13.50" lengthAdjust="spacingAndGlyphs">−1.0</text>
<line x1="416.30" y1="339.7" x2="416.30" y2="342.5" stroke="#a8a8a8" stroke-width="0.8"/>
<text x="416.30" y="352.80" font-size="8.45" fill="#333" text-anchor="middle" textLength="4.39" lengthAdjust="spacingAndGlyphs">0</text>
<line x1="468.32" y1="339.7" x2="468.32" y2="342.5" stroke="#a8a8a8" stroke-width="0.8"/>
<text x="468.32" y="352.80" font-size="8.45" fill="#333" text-anchor="middle" textLength="13.18" lengthAdjust="spacingAndGlyphs">250</text>
<line x1="520.35" y1="339.7" x2="520.35" y2="342.5" stroke="#a8a8a8" stroke-width="0.8"/>
<text x="520.35" y="352.80" font-size="8.45" fill="#333" text-anchor="middle" textLength="13.18" lengthAdjust="spacingAndGlyphs">500</text>
<line x1="572.38" y1="339.7" x2="572.38" y2="342.5" stroke="#a8a8a8" stroke-width="0.8"/>
<text x="572.38" y="352.80" font-size="8.45" fill="#333" text-anchor="middle" textLength="13.18" lengthAdjust="spacingAndGlyphs">750</text>
<line x1="624.40" y1="339.7" x2="624.40" y2="342.5" stroke="#a8a8a8" stroke-width="0.8"/>
<text x="624.40" y="352.80" font-size="8.45" fill="#333" text-anchor="middle" textLength="19.77" lengthAdjust="spacingAndGlyphs">1,000</text>
<line x1="676.42" y1="339.7" x2="676.42" y2="342.5" stroke="#a8a8a8" stroke-width="0.8"/>
<text x="676.42" y="352.80" font-size="8.45" fill="#333" text-anchor="middle" textLength="19.77" lengthAdjust="spacingAndGlyphs">1,250</text>
<text x="542.00" y="365.50" font-size="9.63" fill="#333" text-anchor="middle" textLength="78.90" lengthAdjust="spacingAndGlyphs">Amino acid position</text>
<text x="404.30" y="168.60" font-size="9.63" fill="#222" textLength="27.90" lengthAdjust="spacingAndGlyphs">ABE8e</text>
<text x="366.60" y="256.50" font-size="9.20" fill="#333" text-anchor="middle" textLength="15.70" lengthAdjust="spacingAndGlyphs" transform="rotate(-90 366.60 256.50)">LFC</text>
<text x="376.60" y="256.50" font-size="9.20" fill="#333" text-anchor="middle" textLength="103.30" lengthAdjust="spacingAndGlyphs" transform="rotate(-90 376.60 256.50)">Nontreated versus no EGF</text>
<circle cx="419.62" cy="294.41" r="2.0" fill="#2b115e"/><circle cx="419.85" cy="282.53" r="2.0" fill="#0f0b2c"/><circle cx="420.37" cy="280.29" r="2.0" fill="#4a1079"/><circle cx="428.81" cy="284.83" r="2.0" fill="#231152"/><circle cx="424.91" cy="282.65" r="2.0" fill="#040415"/><circle cx="443.27" cy="278.67" r="2.0" fill="#4b1079"/><circle cx="441.09" cy="278.70" r="2.0" fill="#8f2a80"/><circle cx="437.94" cy="282.68" r="2.0" fill="#681b80"/><circle cx="419.76" cy="282.92" r="2.0" fill="#0d0a28"/><circle cx="425.28" cy="295.80" r="2.0" fill="#100c2f"/><circle cx="434.86" cy="277.88" r="2.0" fill="#50127b"/><circle cx="428.76" cy="281.31" r="2.0" fill="#4f117b"/><circle cx="420.07" cy="277.65" r="2.0" fill="#63197f"/><circle cx="430.12" cy="282.48" r="2.0" fill="#110c31"/><circle cx="424.68" cy="285.41" r="2.0" fill="#481078"/><circle cx="422.58" cy="278.95" r="2.0" fill="#281159"/><circle cx="437.38" cy="286.33" r="2.0" fill="#110c31"/><circle cx="421.84" cy="275.57" r="2.0" fill="#251155"/><circle cx="438.30" cy="279.77" r="2.0" fill="#430f75"/><circle cx="427.18" cy="287.49" r="2.0" fill="#110c31"/><circle cx="420.72" cy="283.33" r="2.0" fill="#170f3c"/><circle cx="443.05" cy="277.61" r="2.0" fill="#7e2481"/><circle cx="431.86" cy="284.68" r="2.0" fill="#2b115e"/><circle cx="427.15" cy="288.85" r="2.0" fill="#221150"/><circle cx="431.27" cy="278.52" r="2.0" fill="#350f6a"/><circle cx="430.53" cy="281.46" r="2.0" fill="#711f81"/><circle cx="437.96" cy="283.05" r="2.0" fill="#52127c"/><circle cx="422.81" cy="285.47" r="2.0" fill="#450f76"/><circle cx="441.57" cy="280.30" r="2.0" fill="#9c2e7f"/><circle cx="426.61" cy="273.84" r="2.0" fill="#2f1062"/><circle cx="431.90" cy="284.53" r="2.0" fill="#53137c"/><circle cx="442.57" cy="276.02" r="2.0" fill="#3c0f71"/><circle cx="439.00" cy="285.51" r="2.0" fill="#420f74"/><circle cx="426.47" cy="282.44" r="2.0" fill="#0d0a28"/><circle cx="432.85" cy="274.49" r="2.0" fill="#4a1079"/><circle cx="427.72" cy="285.57" r="2.0" fill="#0c0926"/><circle cx="428.12" cy="278.98" r="2.0" fill="#450f76"/><circle cx="422.59" cy="279.00" r="2.0" fill="#9e2e7e"/><circle cx="421.26" cy="284.26" r="2.0" fill="#0c0926"/><circle cx="442.30" cy="281.39" r="2.0" fill="#5a157e"/><circle cx="435.14" cy="280.74" r="2.0" fill="#251155"/><circle cx="431.65" cy="280.87" r="2.0" fill="#3b0f6f"/><circle cx="433.01" cy="285.60" r="2.0" fill="#350f6a"/><circle cx="431.68" cy="282.22" r="2.0" fill="#63197f"/><circle cx="439.91" cy="292.05" r="2.0" fill="#420f74"/><circle cx="424.40" cy="277.19" r="2.0" fill="#7e2481"/><circle cx="427.25" cy="280.65" r="2.0" fill="#7f2481"/><circle cx="438.22" cy="282.16" r="2.0" fill="#63197f"/><circle cx="440.59" cy="276.27" r="2.0" fill="#9f2f7e"/><circle cx="417.37" cy="283.38" r="2.0" fill="#4d117a"/><circle cx="464.99" cy="278.87" r="2.0" fill="#58157e"/><circle cx="469.58" cy="285.93" r="2.0" fill="#5d177e"/><circle cx="456.11" cy="286.25" r="2.0" fill="#1b1044"/><circle cx="461.97" cy="280.33" r="2.0" fill="#651a80"/><circle cx="476.10" cy="279.61" r="2.0" fill="#5b167e"/><circle cx="458.62" cy="292.32" r="2.0" fill="#110c31"/><circle cx="476.80" cy="273.81" r="2.0" fill="#691c80"/><circle cx="448.30" cy="279.02" r="2.0" fill="#481078"/><circle cx="454.10" cy="281.16" r="2.0" fill="#4d117a"/><circle cx="450.03" cy="287.07" r="2.0" fill="#341068"/><circle cx="444.44" cy="289.55" r="2.0" fill="#52127c"/><circle cx="465.04" cy="280.46" r="2.0" fill="#4f117b"/><circle cx="451.92" cy="277.84" r="2.0" fill="#4f117b"/><circle cx="467.06" cy="283.24" r="2.0" fill="#0d0a28"/><circle cx="477.41" cy="289.77" r="2.0" fill="#430f75"/><circle cx="471.63" cy="285.90" r="2.0" fill="#3c0f71"/><circle cx="457.20" cy="280.03" r="2.0" fill="#370f6c"/><circle cx="470.10" cy="281.83" r="2.0" fill="#8f2a80"/><circle cx="478.53" cy="277.96" r="2.0" fill="#5b167e"/><circle cx="475.90" cy="285.04" r="2.0" fill="#07051b"/><circle cx="466.46" cy="269.47" r="2.0" fill="#762181"/><circle cx="476.86" cy="287.77" r="2.0" fill="#221150"/><circle cx="478.09" cy="276.34" r="2.0" fill="#842681"/><circle cx="451.11" cy="281.25" r="2.0" fill="#681b80"/><circle cx="478.02" cy="282.12" r="2.0" fill="#060519"/><circle cx="449.20" cy="276.58" r="2.0" fill="#972c7f"/><circle cx="463.46" cy="282.06" r="2.0" fill="#4a1079"/><circle cx="471.95" cy="278.96" r="2.0" fill="#792281"/><circle cx="476.48" cy="271.36" r="2.0" fill="#822581"/><circle cx="473.10" cy="280.06" r="2.0" fill="#261157"/><circle cx="464.42" cy="269.08" r="2.0" fill="#63197f"/><circle cx="481.19" cy="281.99" r="2.0" fill="#691c80"/><circle cx="452.65" cy="285.32" r="2.0" fill="#0b0824"/><circle cx="459.99" cy="285.84" r="2.0" fill="#110c31"/><circle cx="445.69" cy="284.65" r="2.0" fill="#5e177f"/><circle cx="444.09" cy="289.09" r="2.0" fill="#110c31"/><circle cx="474.18" cy="279.62" r="2.0" fill="#651a80"/><circle cx="466.96" cy="279.41" r="2.0" fill="#4a1079"/><circle cx="459.57" cy="290.19" r="2.0" fill="#09071f"/><circle cx="445.77" cy="287.93" r="2.0" fill="#0f0b2c"/><circle cx="466.17" cy="285.73" r="2.0" fill="#09071f"/><circle cx="448.59" cy="286.69" r="2.0" fill="#01010b"/><circle cx="455.06" cy="271.38" r="2.0" fill="#61187f"/><circle cx="479.88" cy="270.96" r="2.0" fill="#57147d"/><circle cx="472.42" cy="271.63" r="2.0" fill="#762181"/><circle cx="467.71" cy="280.75" r="2.0" fill="#691c80"/><circle cx="480.00" cy="277.31" r="2.0" fill="#6e1e81"/><circle cx="461.57" cy="283.72" r="2.0" fill="#0c0926"/><circle cx="477.85" cy="280.54" r="2.0" fill="#731f81"/><circle cx="450.69" cy="282.06" r="2.0" fill="#0f0b2c"/><circle cx="455.29" cy="286.19" r="2.0" fill="#1b1044"/><circle cx="444.72" cy="289.47" r="2.0" fill="#450f76"/><circle cx="457.85" cy="285.78" r="2.0" fill="#711f81"/><circle cx="469.02" cy="284.95" r="2.0" fill="#3b0f6f"/><circle cx="463.54" cy="274.14" r="2.0" fill="#792281"/><circle cx="466.29" cy="275.93" r="2.0" fill="#61187f"/><circle cx="471.80" cy="279.42" r="2.0" fill="#6c1d80"/><circle cx="453.92" cy="277.67" r="2.0" fill="#50127b"/><circle cx="449.51" cy="287.82" r="2.0" fill="#5e177f"/><circle cx="456.76" cy="290.45" r="2.0" fill="#060519"/><circle cx="462.42" cy="271.77" r="2.0" fill="#9a2d7f"/><circle cx="466.13" cy="276.10" r="2.0" fill="#822581"/><circle cx="453.05" cy="280.45" r="2.0" fill="#61187f"/><circle cx="446.40" cy="286.72" r="2.0" fill="#661a80"/><circle cx="457.87" cy="295.26" r="2.0" fill="#040415"/><circle cx="450.79" cy="276.38" r="2.0" fill="#711f81"/><circle cx="459.73" cy="282.40" r="2.0" fill="#691c80"/><circle cx="458.35" cy="280.92" r="2.0" fill="#57147d"/><circle cx="465.45" cy="288.57" r="2.0" fill="#110c31"/><circle cx="479.57" cy="285.41" r="2.0" fill="#09071f"/><circle cx="503.83" cy="286.36" r="2.0" fill="#100c2f"/><circle cx="498.51" cy="287.50" r="2.0" fill="#07051b"/><circle cx="503.44" cy="277.69" r="2.0" fill="#5b167e"/><circle cx="495.42" cy="274.36" r="2.0" fill="#55137d"/><circle cx="482.47" cy="283.26" r="2.0" fill="#07051b"/><circle cx="481.50" cy="281.20" r="2.0" fill="#681b80"/><circle cx="482.82" cy="275.63" r="2.0" fill="#792281"/><circle cx="500.97" cy="280.78" r="2.0" fill="#4f117b"/><circle cx="484.76" cy="265.72" r="2.0" fill="#842681"/><circle cx="505.85" cy="293.18" r="2.0" fill="#2a115c"/><circle cx="503.66" cy="275.88" r="2.0" fill="#350f6a"/><circle cx="496.08" cy="279.53" r="2.0" fill="#301065"/><circle cx="501.52" cy="274.36" r="2.0" fill="#420f74"/><circle cx="484.60" cy="276.92" r="2.0" fill="#5e177f"/><circle cx="507.67" cy="281.98" r="2.0" fill="#4a1079"/><circle cx="501.12" cy="278.15" r="2.0" fill="#8d2980"/><circle cx="490.49" cy="276.49" r="2.0" fill="#7f2481"/><circle cx="501.90" cy="276.33" r="2.0" fill="#3e0f72"/><circle cx="483.34" cy="279.90" r="2.0" fill="#822581"/><circle cx="495.51" cy="277.35" r="2.0" fill="#681b80"/><circle cx="505.54" cy="279.31" r="2.0" fill="#4f117b"/><circle cx="485.54" cy="282.79" r="2.0" fill="#100c2f"/><circle cx="491.62" cy="282.60" r="2.0" fill="#050417"/><circle cx="509.30" cy="284.22" r="2.0" fill="#430f75"/><circle cx="481.55" cy="283.13" r="2.0" fill="#140d35"/><circle cx="495.84" cy="279.25" r="2.0" fill="#63197f"/><circle cx="501.90" cy="282.07" r="2.0" fill="#040415"/><circle cx="504.98" cy="273.97" r="2.0" fill="#9a2d7f"/><circle cx="496.21" cy="278.06" r="2.0" fill="#63197f"/><circle cx="508.56" cy="288.66" r="2.0" fill="#63197f"/><circle cx="497.80" cy="279.86" r="2.0" fill="#4a1079"/><circle cx="499.45" cy="275.25" r="2.0" fill="#4d117a"/><circle cx="499.48" cy="283.03" r="2.0" fill="#100c2f"/><circle cx="505.86" cy="273.75" r="2.0" fill="#50127b"/><circle cx="505.99" cy="270.58" r="2.0" fill="#922b80"/><circle cx="484.81" cy="299.10" r="2.0" fill="#01010b"/><circle cx="496.23" cy="281.54" r="2.0" fill="#60187f"/><circle cx="483.84" cy="279.11" r="2.0" fill="#6e1e81"/><circle cx="486.04" cy="278.08" r="2.0" fill="#4a1079"/><circle cx="482.15" cy="282.72" r="2.0" fill="#6f1e81"/><circle cx="493.36" cy="292.58" r="2.0" fill="#1b1044"/><circle cx="504.47" cy="274.23" r="2.0" fill="#53137c"/><circle cx="504.06" cy="273.16" r="2.0" fill="#4f117b"/><circle cx="494.46" cy="281.59" r="2.0" fill="#0b0824"/><circle cx="486.00" cy="285.89" r="2.0" fill="#0a0722"/><circle cx="493.38" cy="281.84" r="2.0" fill="#0a0722"/><circle cx="500.03" cy="284.91" r="2.0" fill="#63197f"/><circle cx="481.83" cy="287.82" r="2.0" fill="#3e0f72"/><circle cx="495.01" cy="273.59" r="2.0" fill="#9a2d7f"/><circle cx="489.44" cy="277.54" r="2.0" fill="#a3307e"/><circle cx="543.31" cy="287.01" r="2.0" fill="#040415"/><circle cx="527.89" cy="276.74" r="2.0" fill="#4f117b"/><circle cx="534.62" cy="282.28" r="2.0" fill="#100c2f"/><circle cx="525.36" cy="272.72" r="2.0" fill="#661a80"/><circle cx="550.53" cy="279.81" r="2.0" fill="#470f77"/><circle cx="558.96" cy="286.52" r="2.0" fill="#060519"/><circle cx="531.03" cy="286.64" r="2.0" fill="#110c31"/><circle cx="511.13" cy="278.67" r="2.0" fill="#301065"/><circle cx="546.03" cy="282.42" r="2.0" fill="#08061d"/><circle cx="534.60" cy="282.82" r="2.0" fill="#050417"/><circle cx="534.30" cy="284.57" r="2.0" fill="#1a1041"/><circle cx="558.04" cy="285.06" r="2.0" fill="#110c31"/><circle cx="556.11" cy="278.38" r="2.0" fill="#430f75"/><circle cx="533.07" cy="282.13" r="2.0" fill="#651a80"/><circle cx="555.31" cy="266.97" r="2.0" fill="#892881"/><circle cx="510.97" cy="273.17" r="2.0" fill="#9e2e7e"/><circle cx="535.81" cy="280.96" r="2.0" fill="#261157"/><circle cx="541.00" cy="275.93" r="2.0" fill="#60187f"/><circle cx="513.03" cy="290.17" r="2.0" fill="#0a0722"/><circle cx="541.52" cy="289.34" r="2.0" fill="#060519"/><circle cx="542.27" cy="294.86" r="2.0" fill="#060519"/><circle cx="539.77" cy="278.51" r="2.0" fill="#231152"/><circle cx="522.56" cy="280.16" r="2.0" fill="#58157e"/><circle cx="556.16" cy="291.76" r="2.0" fill="#390f6e"/><circle cx="509.49" cy="292.14" r="2.0" fill="#0e0a2a"/><circle cx="515.17" cy="282.42" r="2.0" fill="#52127c"/><circle cx="512.87" cy="289.46" r="2.0" fill="#390f6e"/><circle cx="532.32" cy="275.94" r="2.0" fill="#3b0f6f"/><circle cx="525.24" cy="281.62" r="2.0" fill="#0e0a2a"/><circle cx="548.81" cy="284.80" r="2.0" fill="#120d33"/><circle cx="523.24" cy="278.91" r="2.0" fill="#57147d"/><circle cx="552.70" cy="276.08" r="2.0" fill="#450f76"/><circle cx="552.89" cy="272.21" r="2.0" fill="#52127c"/><circle cx="509.62" cy="291.27" r="2.0" fill="#1c1046"/><circle cx="548.86" cy="284.78" r="2.0" fill="#060519"/><circle cx="532.02" cy="281.75" r="2.0" fill="#0d0a28"/><circle cx="547.20" cy="271.33" r="2.0" fill="#812581"/><circle cx="523.55" cy="271.21" r="2.0" fill="#681b80"/><circle cx="555.23" cy="288.96" r="2.0" fill="#0f0b2c"/><circle cx="541.03" cy="287.84" r="2.0" fill="#0b0824"/><circle cx="528.28" cy="277.09" r="2.0" fill="#681b80"/><circle cx="542.11" cy="289.44" r="2.0" fill="#050417"/><circle cx="544.50" cy="280.16" r="2.0" fill="#55137d"/><circle cx="555.81" cy="280.15" r="2.0" fill="#450f76"/><circle cx="541.54" cy="280.47" r="2.0" fill="#52127c"/><circle cx="558.66" cy="300.02" r="2.0" fill="#02020f"/><circle cx="541.14" cy="277.00" r="2.0" fill="#661a80"/><circle cx="511.23" cy="281.00" r="2.0" fill="#711f81"/><circle cx="537.47" cy="275.72" r="2.0" fill="#772181"/><circle cx="510.54" cy="272.43" r="2.0" fill="#5b167e"/><circle cx="530.07" cy="287.20" r="2.0" fill="#231152"/><circle cx="542.97" cy="287.27" r="2.0" fill="#050417"/><circle cx="519.58" cy="280.04" r="2.0" fill="#822581"/><circle cx="516.79" cy="267.98" r="2.0" fill="#822581"/><circle cx="532.90" cy="272.19" r="2.0" fill="#6c1d80"/><circle cx="530.30" cy="285.51" r="2.0" fill="#140d35"/><circle cx="513.37" cy="272.23" r="2.0" fill="#822581"/><circle cx="537.30" cy="290.80" r="2.0" fill="#1c1046"/><circle cx="528.30" cy="281.71" r="2.0" fill="#370f6c"/><circle cx="524.29" cy="272.62" r="2.0" fill="#992d7f"/><circle cx="528.25" cy="276.13" r="2.0" fill="#4d117a"/><circle cx="511.46" cy="287.39" r="2.0" fill="#140d35"/><circle cx="552.89" cy="277.98" r="2.0" fill="#321067"/><circle cx="531.57" cy="280.60" r="2.0" fill="#5a157e"/><circle cx="512.24" cy="280.84" r="2.0" fill="#4a1079"/><circle cx="520.29" cy="277.99" r="2.0" fill="#350f6a"/><circle cx="527.28" cy="280.82" r="2.0" fill="#731f81"/><circle cx="516.12" cy="275.97" r="2.0" fill="#55137d"/><circle cx="532.18" cy="276.80" r="2.0" fill="#63197f"/><circle cx="518.63" cy="290.01" r="2.0" fill="#341068"/><circle cx="525.97" cy="285.04" r="2.0" fill="#0f0b2c"/><circle cx="553.11" cy="286.16" r="2.0" fill="#1f114b"/><circle cx="552.55" cy="292.70" r="2.0" fill="#110c31"/><circle cx="549.28" cy="282.36" r="2.0" fill="#61187f"/><circle cx="520.95" cy="281.15" r="2.0" fill="#7f2481"/><circle cx="541.53" cy="271.83" r="2.0" fill="#53137c"/><circle cx="520.41" cy="289.10" r="2.0" fill="#0e0a2a"/><circle cx="537.97" cy="278.48" r="2.0" fill="#3c0f71"/><circle cx="531.67" cy="281.16" r="2.0" fill="#301065"/><circle cx="542.77" cy="275.71" r="2.0" fill="#4f117b"/><circle cx="513.56" cy="268.45" r="2.0" fill="#972c7f"/><circle cx="546.84" cy="284.66" r="2.0" fill="#55137d"/><circle cx="527.89" cy="281.39" r="2.0" fill="#3e0f72"/><circle cx="511.71" cy="270.27" r="2.0" fill="#7c2381"/><circle cx="524.60" cy="288.30" r="2.0" fill="#470f77"/><circle cx="581.70" cy="280.57" r="2.0" fill="#57147d"/><circle cx="588.52" cy="278.79" r="2.0" fill="#7f2481"/><circle cx="585.56" cy="293.72" r="2.0" fill="#6e1e81"/><circle cx="585.34" cy="285.97" r="2.0" fill="#4a1079"/><circle cx="580.33" cy="272.48" r="2.0" fill="#822581"/><circle cx="598.44" cy="280.68" r="2.0" fill="#691c80"/><circle cx="582.91" cy="282.52" r="2.0" fill="#09071f"/><circle cx="572.00" cy="266.40" r="2.0" fill="#7c2381"/><circle cx="607.84" cy="286.00" r="2.0" fill="#661a80"/><circle cx="607.69" cy="264.85" r="2.0" fill="#872781"/><circle cx="590.42" cy="286.06" r="2.0" fill="#731f81"/><circle cx="569.37" cy="269.12" r="2.0" fill="#872781"/><circle cx="588.32" cy="276.66" r="2.0" fill="#50127b"/><circle cx="588.86" cy="274.42" r="2.0" fill="#691c80"/><circle cx="576.71" cy="262.52" r="2.0" fill="#8f2a80"/><circle cx="609.93" cy="285.62" r="2.0" fill="#57147d"/><circle cx="580.78" cy="272.37" r="2.0" fill="#470f77"/><circle cx="608.12" cy="283.72" r="2.0" fill="#0f0b2c"/><circle cx="592.25" cy="287.10" r="2.0" fill="#470f77"/><circle cx="571.03" cy="277.76" r="2.0" fill="#0f0b2c"/><circle cx="597.25" cy="273.42" r="2.0" fill="#53137c"/><circle cx="569.79" cy="299.81" r="2.0" fill="#0a0722"/><circle cx="594.60" cy="280.83" r="2.0" fill="#321067"/><circle cx="610.86" cy="277.88" r="2.0" fill="#6c1d80"/><circle cx="576.32" cy="279.83" r="2.0" fill="#481078"/><circle cx="560.15" cy="285.43" r="2.0" fill="#1c1046"/><circle cx="560.78" cy="279.11" r="2.0" fill="#6b1c80"/><circle cx="605.74" cy="274.72" r="2.0" fill="#742081"/><circle cx="586.99" cy="276.81" r="2.0" fill="#4b1079"/><circle cx="593.23" cy="282.55" r="2.0" fill="#08061d"/><circle cx="588.50" cy="279.76" r="2.0" fill="#7c2381"/><circle cx="576.40" cy="277.04" r="2.0" fill="#6c1d80"/><circle cx="601.37" cy="281.27" r="2.0" fill="#61187f"/><circle cx="607.96" cy="277.64" r="2.0" fill="#3c0f71"/><circle cx="591.67" cy="294.55" r="2.0" fill="#150e38"/><circle cx="596.77" cy="288.61" r="2.0" fill="#0e0a2a"/><circle cx="568.01" cy="291.76" r="2.0" fill="#481078"/><circle cx="611.35" cy="277.28" r="2.0" fill="#772181"/><circle cx="608.72" cy="288.24" r="2.0" fill="#2f1062"/><circle cx="611.33" cy="288.62" r="2.0" fill="#0a0722"/><circle cx="571.03" cy="270.95" r="2.0" fill="#4b1079"/><circle cx="610.69" cy="284.84" r="2.0" fill="#430f75"/><circle cx="586.67" cy="277.87" r="2.0" fill="#420f74"/><circle cx="593.95" cy="270.13" r="2.0" fill="#792281"/><circle cx="590.81" cy="271.64" r="2.0" fill="#7e2481"/><circle cx="608.47" cy="283.36" r="2.0" fill="#6c1d80"/><circle cx="577.34" cy="274.24" r="2.0" fill="#55137d"/><circle cx="594.84" cy="271.27" r="2.0" fill="#762181"/><circle cx="566.64" cy="272.44" r="2.0" fill="#852681"/><circle cx="612.79" cy="291.29" r="2.0" fill="#07051b"/><circle cx="613.25" cy="279.97" r="2.0" fill="#390f6e"/><circle cx="604.06" cy="279.51" r="2.0" fill="#651a80"/><circle cx="591.51" cy="274.90" r="2.0" fill="#9f2f7e"/><circle cx="582.79" cy="269.03" r="2.0" fill="#992d7f"/><circle cx="561.31" cy="280.69" r="2.0" fill="#301065"/><circle cx="590.71" cy="273.66" r="2.0" fill="#872781"/><circle cx="569.58" cy="271.99" r="2.0" fill="#8c2980"/><circle cx="568.85" cy="290.33" r="2.0" fill="#341068"/><circle cx="600.94" cy="292.97" r="2.0" fill="#0c0926"/><circle cx="570.88" cy="281.52" r="2.0" fill="#5a157e"/><circle cx="563.69" cy="289.45" r="2.0" fill="#02020f"/><circle cx="579.06" cy="267.97" r="2.0" fill="#892881"/><circle cx="583.99" cy="279.04" r="2.0" fill="#321067"/><circle cx="588.11" cy="275.86" r="2.0" fill="#53137c"/><circle cx="613.99" cy="293.09" r="2.0" fill="#1a1041"/><circle cx="610.45" cy="289.63" r="2.0" fill="#140d35"/><circle cx="570.75" cy="275.68" r="2.0" fill="#57147d"/><circle cx="605.11" cy="279.14" r="2.0" fill="#3e0f72"/><circle cx="610.01" cy="278.32" r="2.0" fill="#7c2381"/><circle cx="579.90" cy="275.80" r="2.0" fill="#9e2e7e"/><circle cx="569.59" cy="290.52" r="2.0" fill="#4b1079"/><circle cx="566.21" cy="277.79" r="2.0" fill="#53137c"/><circle cx="570.29" cy="282.86" r="2.0" fill="#120d33"/><circle cx="566.38" cy="283.99" r="2.0" fill="#5b167e"/><circle cx="602.36" cy="278.23" r="2.0" fill="#4d117a"/><circle cx="583.97" cy="289.61" r="2.0" fill="#110c31"/><circle cx="563.73" cy="275.31" r="2.0" fill="#992d7f"/><circle cx="606.54" cy="281.55" r="2.0" fill="#7f2481"/><circle cx="596.83" cy="277.30" r="2.0" fill="#7e2481"/><circle cx="582.56" cy="271.33" r="2.0" fill="#7f2481"/><circle cx="596.58" cy="282.61" r="2.0" fill="#57147d"/><circle cx="575.51" cy="294.20" r="2.0" fill="#040415"/><circle cx="559.14" cy="275.35" r="2.0" fill="#4f117b"/><circle cx="598.39" cy="282.95" r="2.0" fill="#470f77"/><circle cx="589.86" cy="271.45" r="2.0" fill="#481078"/><circle cx="612.48" cy="280.23" r="2.0" fill="#762181"/><circle cx="604.11" cy="298.05" r="2.0" fill="#1f114b"/><circle cx="562.81" cy="288.75" r="2.0" fill="#20114d"/><circle cx="589.17" cy="292.43" r="2.0" fill="#040415"/><circle cx="570.06" cy="279.00" r="2.0" fill="#9c2e7f"/><circle cx="572.72" cy="283.05" r="2.0" fill="#040415"/><circle cx="597.78" cy="285.40" r="2.0" fill="#6f1e81"/><circle cx="622.15" cy="266.83" r="2.0" fill="#6f1e81"/><circle cx="647.38" cy="269.40" r="2.0" fill="#7c2381"/><circle cx="628.11" cy="270.88" r="2.0" fill="#651a80"/><circle cx="648.91" cy="283.78" r="2.0" fill="#140d35"/><circle cx="658.87" cy="279.05" r="2.0" fill="#812581"/><circle cx="668.27" cy="277.67" r="2.0" fill="#4f117b"/><circle cx="614.34" cy="280.82" r="2.0" fill="#61187f"/><circle cx="649.25" cy="272.87" r="2.0" fill="#842681"/><circle cx="664.76" cy="260.32" r="2.0" fill="#c83d72"/><circle cx="668.23" cy="267.24" r="2.0" fill="#6f1e81"/><circle cx="651.63" cy="268.61" r="2.0" fill="#6f1e81"/><circle cx="629.78" cy="265.98" r="2.0" fill="#742081"/><circle cx="664.68" cy="271.43" r="2.0" fill="#972c7f"/><circle cx="626.19" cy="285.22" r="2.0" fill="#2f1062"/><circle cx="620.47" cy="267.28" r="2.0" fill="#9c2e7f"/><circle cx="659.75" cy="276.09" r="2.0" fill="#711f81"/><circle cx="658.86" cy="280.99" r="2.0" fill="#52127c"/><circle cx="650.38" cy="281.74" r="2.0" fill="#661a80"/><circle cx="639.38" cy="279.51" r="2.0" fill="#5a157e"/><circle cx="632.21" cy="268.02" r="2.0" fill="#6f1e81"/><circle cx="642.87" cy="263.41" r="2.0" fill="#8f2a80"/><circle cx="664.30" cy="255.00" r="2.0" fill="#b0347b"/><circle cx="662.58" cy="281.21" r="2.0" fill="#3e0f72"/><circle cx="654.22" cy="274.87" r="2.0" fill="#470f77"/><circle cx="618.60" cy="273.82" r="2.0" fill="#812581"/><circle cx="643.66" cy="268.65" r="2.0" fill="#6f1e81"/><circle cx="653.53" cy="270.10" r="2.0" fill="#8a2881"/><circle cx="623.92" cy="275.17" r="2.0" fill="#742081"/><circle cx="623.96" cy="272.71" r="2.0" fill="#7e2481"/><circle cx="625.11" cy="274.28" r="2.0" fill="#651a80"/><circle cx="614.62" cy="279.41" r="2.0" fill="#52127c"/><circle cx="643.44" cy="272.00" r="2.0" fill="#53137c"/><circle cx="622.59" cy="289.59" r="2.0" fill="#481078"/><circle cx="666.62" cy="282.19" r="2.0" fill="#4a1079"/><circle cx="630.52" cy="284.15" r="2.0" fill="#0b0824"/><circle cx="636.48" cy="276.37" r="2.0" fill="#58157e"/><circle cx="653.91" cy="272.59" r="2.0" fill="#6f1e81"/><circle cx="628.62" cy="281.24" r="2.0" fill="#400f73"/><circle cx="615.55" cy="264.88" r="2.0" fill="#892881"/><circle cx="619.50" cy="274.33" r="2.0" fill="#4a1079"/><circle cx="630.51" cy="281.33" r="2.0" fill="#5b167e"/><circle cx="658.40" cy="276.51" r="2.0" fill="#5e177f"/><circle cx="661.89" cy="272.50" r="2.0" fill="#762181"/><circle cx="620.70" cy="274.97" r="2.0" fill="#63197f"/><circle cx="650.78" cy="291.77" r="2.0" fill="#52127c"/><circle cx="646.13" cy="270.29" r="2.0" fill="#772181"/><circle cx="666.29" cy="272.69" r="2.0" fill="#4f117b"/><circle cx="638.78" cy="285.24" r="2.0" fill="#060519"/><circle cx="663.58" cy="267.49" r="2.0" fill="#7f2481"/><circle cx="617.62" cy="276.29" r="2.0" fill="#8f2a80"/><circle cx="627.98" cy="271.90" r="2.0" fill="#6e1e81"/><circle cx="622.26" cy="271.08" r="2.0" fill="#742081"/><circle cx="650.63" cy="279.96" r="2.0" fill="#3b0f6f"/><circle cx="652.57" cy="268.77" r="2.0" fill="#952c80"/><circle cx="635.06" cy="280.28" r="2.0" fill="#651a80"/><circle cx="660.31" cy="285.24" r="2.0" fill="#07051b"/><circle cx="660.52" cy="283.60" r="2.0" fill="#5d177e"/><circle cx="638.28" cy="282.22" r="2.0" fill="#2d1060"/><circle cx="657.57" cy="267.09" r="2.0" fill="#8f2a80"/><circle cx="657.24" cy="276.83" r="2.0" fill="#892881"/><circle cx="616.60" cy="266.52" r="2.0" fill="#6f1e81"/><circle cx="634.02" cy="282.54" r="2.0" fill="#55137d"/><circle cx="665.64" cy="272.88" r="2.0" fill="#8f2a80"/><circle cx="658.73" cy="269.83" r="2.0" fill="#60187f"/><circle cx="658.52" cy="282.26" r="2.0" fill="#040415"/><circle cx="641.69" cy="282.29" r="2.0" fill="#58157e"/><circle cx="641.39" cy="286.73" r="2.0" fill="#09071f"/><circle cx="614.54" cy="281.68" r="2.0" fill="#110c31"/><circle cx="644.80" cy="270.89" r="2.0" fill="#9f2f7e"/><circle cx="619.98" cy="277.02" r="2.0" fill="#6e1e81"/><circle cx="621.60" cy="266.96" r="2.0" fill="#812581"/><circle cx="646.82" cy="274.80" r="2.0" fill="#742081"/><circle cx="651.93" cy="273.13" r="2.0" fill="#6e1e81"/><circle cx="656.76" cy="267.46" r="2.0" fill="#731f81"/><circle cx="644.45" cy="265.93" r="2.0" fill="#7f2481"/><circle cx="659.34" cy="265.59" r="2.0" fill="#9f2f7e"/><circle cx="641.25" cy="276.76" r="2.0" fill="#762181"/><circle cx="665.42" cy="277.73" r="2.0" fill="#892881"/><circle cx="643.87" cy="275.66" r="2.0" fill="#681b80"/><circle cx="614.28" cy="268.08" r="2.0" fill="#9c2e7f"/><circle cx="655.47" cy="263.75" r="2.0" fill="#7c2381"/><circle cx="622.39" cy="261.39" r="2.0" fill="#9a2d7f"/><circle cx="660.95" cy="277.06" r="2.0" fill="#58157e"/><circle cx="614.39" cy="272.65" r="2.0" fill="#661a80"/><circle cx="628.40" cy="269.01" r="2.0" fill="#9f2f7e"/><circle cx="621.79" cy="269.15" r="2.0" fill="#952c80"/><circle cx="666.22" cy="285.34" r="2.0" fill="#08061d"/><circle cx="658.77" cy="280.73" r="2.0" fill="#2a115c"/><circle cx="629.59" cy="284.71" r="2.0" fill="#060519"/><circle cx="641.19" cy="260.10" r="2.0" fill="#952c80"/><circle cx="659.37" cy="281.40" r="2.0" fill="#400f73"/><circle cx="623.87" cy="263.76" r="2.0" fill="#7f2481"/><circle cx="630.70" cy="273.15" r="2.0" fill="#4a1079"/><circle cx="641.93" cy="262.96" r="2.0" fill="#8f2a80"/><circle cx="626.80" cy="267.85" r="2.0" fill="#6f1e81"/><circle cx="424.48" cy="303.80" r="2.0" fill="#221150"/><circle cx="457.54" cy="301.60" r="2.0" fill="#030311"/><circle cx="473.98" cy="299.77" r="2.0" fill="#02020f"/><circle cx="451.67" cy="303.08" r="2.0" fill="#170f3c"/><circle cx="481.17" cy="306.24" r="2.0" fill="#140d35"/><circle cx="486.22" cy="298.79" r="2.0" fill="#02020f"/><circle cx="503.78" cy="305.59" r="2.0" fill="#0a0722"/><circle cx="503.15" cy="300.68" r="2.0" fill="#02020f"/><circle cx="522.09" cy="301.82" r="2.0" fill="#0c0926"/><circle cx="513.93" cy="302.94" r="2.0" fill="#100c2f"/><circle cx="520.39" cy="306.46" r="2.0" fill="#0b0824"/><circle cx="610.83" cy="305.06" r="2.0" fill="#09071f"/><circle cx="607.28" cy="303.63" r="2.0" fill="#02020f"/><circle cx="596.86" cy="306.11" r="2.0" fill="#02020f"/><circle cx="575.47" cy="296.98" r="2.0" fill="#030311"/><circle cx="566.01" cy="296.69" r="2.0" fill="#02020f"/><circle cx="605.20" cy="297.79" r="2.0" fill="#02020f"/><circle cx="616.16" cy="300.70" r="2.0" fill="#08061d"/><circle cx="624.16" cy="297.59" r="2.0" fill="#0f0b2c"/><circle cx="422.22" cy="264.61" r="2.0" fill="#8c2980"/><circle cx="432.63" cy="268.95" r="2.0" fill="#742081"/><circle cx="432.82" cy="264.95" r="2.0" fill="#9a2d7f"/><circle cx="419.06" cy="264.42" r="2.0" fill="#b0347b"/><circle cx="461.08" cy="265.29" r="2.0" fill="#852681"/><circle cx="454.78" cy="255.14" r="2.0" fill="#a4307d"/><circle cx="446.07" cy="267.66" r="2.0" fill="#681b80"/><circle cx="444.34" cy="264.20" r="2.0" fill="#8d2980"/><circle cx="459.28" cy="262.20" r="2.0" fill="#60187f"/><circle cx="454.70" cy="266.47" r="2.0" fill="#812581"/><circle cx="487.14" cy="266.82" r="2.0" fill="#762181"/><circle cx="507.33" cy="258.53" r="2.0" fill="#8c2980"/><circle cx="483.49" cy="255.86" r="2.0" fill="#7e2481"/><circle cx="500.10" cy="255.91" r="2.0" fill="#a3307e"/><circle cx="486.21" cy="253.63" r="2.0" fill="#a6317d"/><circle cx="522.20" cy="259.33" r="2.0" fill="#892881"/><circle cx="518.08" cy="264.80" r="2.0" fill="#772181"/><circle cx="557.93" cy="253.35" r="2.0" fill="#b93778"/><circle cx="551.68" cy="262.75" r="2.0" fill="#822581"/><circle cx="530.60" cy="268.18" r="2.0" fill="#992d7f"/><circle cx="543.90" cy="265.12" r="2.0" fill="#742081"/><circle cx="600.06" cy="242.55" r="2.0" fill="#b53679"/><circle cx="613.30" cy="254.00" r="2.0" fill="#9e2e7e"/><circle cx="601.26" cy="248.26" r="2.0" fill="#d0416f"/><circle cx="590.65" cy="263.14" r="2.0" fill="#792281"/><circle cx="569.90" cy="259.22" r="2.0" fill="#952c80"/><circle cx="602.89" cy="251.03" r="2.0" fill="#8c2980"/><circle cx="601.91" cy="252.77" r="2.0" fill="#852681"/><circle cx="566.30" cy="267.85" r="2.0" fill="#5b167e"/><circle cx="601.00" cy="242.33" r="2.0" fill="#a7317d"/><circle cx="613.07" cy="246.81" r="2.0" fill="#9f2f7e"/><circle cx="588.74" cy="261.92" r="2.0" fill="#53137c"/><circle cx="578.64" cy="258.36" r="2.0" fill="#762181"/><circle cx="575.35" cy="247.58" r="2.0" fill="#922b80"/><circle cx="561.99" cy="253.69" r="2.0" fill="#a3307e"/><circle cx="610.38" cy="243.19" r="2.0" fill="#b93778"/><circle cx="601.41" cy="252.27" r="2.0" fill="#9c2e7f"/><circle cx="620.36" cy="255.91" r="2.0" fill="#952c80"/><circle cx="648.81" cy="254.93" r="2.0" fill="#c63c73"/><circle cx="635.36" cy="268.54" r="2.0" fill="#6e1e81"/><circle cx="669.05" cy="263.44" r="2.0" fill="#711f81"/><circle cx="661.58" cy="261.12" r="2.0" fill="#952c80"/><circle cx="625.98" cy="267.91" r="2.0" fill="#822581"/><circle cx="619.52" cy="267.60" r="2.0" fill="#6e1e81"/><circle cx="618.15" cy="267.40" r="2.0" fill="#6e1e81"/><circle cx="630.76" cy="254.49" r="2.0" fill="#972c7f"/><circle cx="665.65" cy="258.28" r="2.0" fill="#8f2a80"/><circle cx="666.06" cy="263.32" r="2.0" fill="#942b80"/><circle cx="618.64" cy="254.89" r="2.0" fill="#852681"/><circle cx="486.10" cy="188.00" r="2.0" fill="#fd9f6c"/><circle cx="485.80" cy="199.30" r="2.0" fill="#fb8660"/><circle cx="493.00" cy="199.30" r="2.0" fill="#fb8660"/><circle cx="497.40" cy="193.60" r="2.0" fill="#fd9567"/><circle cx="501.00" cy="193.10" r="2.0" fill="#fd9768"/><circle cx="445.70" cy="207.30" r="2.0" fill="#f6705b"/><circle cx="522.10" cy="202.00" r="2.0" fill="#fa7f5e"/><circle cx="457.70" cy="220.70" r="2.0" fill="#e55063"/><circle cx="416.40" cy="228.20" r="2.0" fill="#d6446c"/><circle cx="444.50" cy="230.10" r="2.0" fill="#d1426e"/><circle cx="445.50" cy="231.00" r="2.0" fill="#ce4070"/><circle cx="523.10" cy="224.80" r="2.0" fill="#dd4968"/><circle cx="535.40" cy="214.70" r="2.0" fill="#ee5d5d"/><circle cx="535.10" cy="227.70" r="2.0" fill="#d6446c"/><circle cx="585.80" cy="184.80" r="2.0" fill="#fd9f6c"/><circle cx="586.30" cy="186.20" r="2.0" fill="#fd9f6c"/><circle cx="603.10" cy="189.00" r="2.0" fill="#fd9f6c"/><circle cx="603.10" cy="197.20" r="2.0" fill="#fc8c63"/><circle cx="603.10" cy="201.60" r="2.0" fill="#fa7f5e"/><circle cx="594.00" cy="205.80" r="2.0" fill="#f7735c"/><circle cx="598.20" cy="210.80" r="2.0" fill="#f3675b"/><circle cx="546.40" cy="223.20" r="2.0" fill="#e04b66"/><circle cx="562.80" cy="220.70" r="2.0" fill="#e55063"/><circle cx="571.40" cy="230.60" r="2.0" fill="#d0416f"/><circle cx="574.60" cy="225.60" r="2.0" fill="#da4769"/><circle cx="587.00" cy="228.10" r="2.0" fill="#d6446c"/><circle cx="611.80" cy="238.00" r="2.0" fill="#be3976"/><circle cx="428.40" cy="235.90" r="2.0" fill="#c33b74"/><circle cx="432.50" cy="244.00" r="2.0" fill="#b0347b"/><circle cx="434.00" cy="243.50" r="2.0" fill="#b1357a"/><circle cx="422.10" cy="245.50" r="2.0" fill="#ac337b"/><circle cx="441.80" cy="243.60" r="2.0" fill="#b1357a"/><circle cx="455.30" cy="242.60" r="2.0" fill="#b3357a"/><circle cx="468.00" cy="234.00" r="2.0" fill="#c83d72"/><circle cx="471.40" cy="235.20" r="2.0" fill="#c53c74"/><circle cx="466.10" cy="242.60" r="2.0" fill="#b3357a"/><circle cx="472.90" cy="247.00" r="2.0" fill="#a7317d"/><circle cx="485.60" cy="240.20" r="2.0" fill="#b93778"/><circle cx="510.60" cy="227.20" r="2.0" fill="#d7456b"/><circle cx="511.30" cy="231.60" r="2.0" fill="#ce4070"/><circle cx="514.50" cy="246.50" r="2.0" fill="#a9327c"/><circle cx="510.60" cy="251.70" r="2.0" fill="#9c2e7f"/><circle cx="577.90" cy="244.70" r="2.0" fill="#ae347b"/><circle cx="584.50" cy="249.10" r="2.0" fill="#a3307e"/><circle cx="600.60" cy="245.00" r="2.0" fill="#ac337b"/><circle cx="602.00" cy="245.30" r="2.0" fill="#ac337b"/><circle cx="597.40" cy="252.90" r="2.0" fill="#9a2d7f"/><circle cx="564.70" cy="252.90" r="2.0" fill="#9a2d7f"/><circle cx="571.40" cy="204.60" r="2.0" fill="#6f1e81"/>
<text x="454.80" y="190.30" font-size="7.17" fill="#222" textLength="28.20" lengthAdjust="spacingAndGlyphs">Exon9;+2</text>
<text x="459.60" y="208.80" font-size="7.17" fill="#222" textLength="26.50" lengthAdjust="spacingAndGlyphs">Exon9;−2</text>
<text x="500.50" y="190.30" font-size="7.17" fill="#222" textLength="33.70" lengthAdjust="spacingAndGlyphs">Leu406Pro</text>
<text x="535.70" y="207.60" font-size="7.17" fill="#222" textLength="32.10" lengthAdjust="spacingAndGlyphs">Leu747Pro</text>
<text x="571.00" y="220.50" font-size="7.17" fill="#222" textLength="29.00" lengthAdjust="spacingAndGlyphs">Ile853Thr</text>
<text x="585.80" y="181.00" font-size="7.17" fill="#222" textLength="68.50" lengthAdjust="spacingAndGlyphs">Cys818Arg;Trp817Arg</text>
<text x="606.30" y="191.60" font-size="7.17" fill="#222" textLength="66.10" lengthAdjust="spacingAndGlyphs">Trp898Arg;Val897Ala</text>
<text x="606.30" y="199.60" font-size="7.17" fill="#222" textLength="31.90" lengthAdjust="spacingAndGlyphs">Tyr900His</text>
<text x="606.30" y="206.90" font-size="7.17" fill="#222" textLength="34.20" lengthAdjust="spacingAndGlyphs">Trp898Arg</text>
<line x1="587" y1="213.3" x2="591.8" y2="208.2" stroke="#222" stroke-width="0.6"/>
<rect x="416.30" y="379.8" width="27.68" height="167.4" fill="#cfe8e0"/>
<rect x="481.44" y="379.8" width="27.89" height="167.4" fill="#cfe8e0"/>
<rect x="545.74" y="379.8" width="3.95" height="167.4" fill="#fcebd6"/>
<rect x="559.06" y="379.8" width="55.15" height="167.4" fill="#f7d8dc"/>
<rect x="614.20" y="379.8" width="65.76" height="167.4" fill="#d9e3ef"/>
<path d="M403.7,379.8 V547.2 H680" stroke="#a8a8a8" stroke-width="1.1" fill="none"/>
<line x1="400.9" y1="398.70" x2="403.7" y2="398.70" stroke="#a8a8a8" stroke-width="0.8"/>
<text x="397.00" y="401.20" font-size="7.92" fill="#333" text-anchor="end" textLength="8.70" lengthAdjust="spacingAndGlyphs">1.5</text>
<line x1="400.9" y1="426.90" x2="403.7" y2="426.90" stroke="#a8a8a8" stroke-width="0.8"/>
<text x="397.00" y="429.40" font-size="7.92" fill="#333" text-anchor="end" textLength="9.30" lengthAdjust="spacingAndGlyphs">1.0</text>
<line x1="400.9" y1="455.10" x2="403.7" y2="455.10" stroke="#a8a8a8" stroke-width="0.8"/>
<text x="397.00" y="457.60" font-size="7.92" fill="#333" text-anchor="end" textLength="9.30" lengthAdjust="spacingAndGlyphs">0.5</text>
<line x1="400.9" y1="483.30" x2="403.7" y2="483.30" stroke="#a8a8a8" stroke-width="0.8"/>
<text x="397.00" y="485.80" font-size="7.92" fill="#333" text-anchor="end" textLength="3.60" lengthAdjust="spacingAndGlyphs">0</text>
<line x1="400.9" y1="511.50" x2="403.7" y2="511.50" stroke="#a8a8a8" stroke-width="0.8"/>
<text x="397.00" y="514.00" font-size="7.92" fill="#333" text-anchor="end" textLength="13.50" lengthAdjust="spacingAndGlyphs">−0.5</text>
<line x1="400.9" y1="539.70" x2="403.7" y2="539.70" stroke="#a8a8a8" stroke-width="0.8"/>
<text x="397.00" y="542.20" font-size="7.92" fill="#333" text-anchor="end" textLength="13.50" lengthAdjust="spacingAndGlyphs">−1.0</text>
<line x1="416.30" y1="547.2" x2="416.30" y2="550.0" stroke="#a8a8a8" stroke-width="0.8"/>
<text x="416.30" y="560.30" font-size="8.45" fill="#333" text-anchor="middle" textLength="4.39" lengthAdjust="spacingAndGlyphs">0</text>
<line x1="468.32" y1="547.2" x2="468.32" y2="550.0" stroke="#a8a8a8" stroke-width="0.8"/>
<text x="468.32" y="560.30" font-size="8.45" fill="#333" text-anchor="middle" textLength="13.18" lengthAdjust="spacingAndGlyphs">250</text>
<line x1="520.35" y1="547.2" x2="520.35" y2="550.0" stroke="#a8a8a8" stroke-width="0.8"/>
<text x="520.35" y="560.30" font-size="8.45" fill="#333" text-anchor="middle" textLength="13.18" lengthAdjust="spacingAndGlyphs">500</text>
<line x1="572.38" y1="547.2" x2="572.38" y2="550.0" stroke="#a8a8a8" stroke-width="0.8"/>
<text x="572.38" y="560.30" font-size="8.45" fill="#333" text-anchor="middle" textLength="13.18" lengthAdjust="spacingAndGlyphs">750</text>
<line x1="624.40" y1="547.2" x2="624.40" y2="550.0" stroke="#a8a8a8" stroke-width="0.8"/>
<text x="624.40" y="560.30" font-size="8.45" fill="#333" text-anchor="middle" textLength="19.77" lengthAdjust="spacingAndGlyphs">1,000</text>
<line x1="676.42" y1="547.2" x2="676.42" y2="550.0" stroke="#a8a8a8" stroke-width="0.8"/>
<text x="676.42" y="560.30" font-size="8.45" fill="#333" text-anchor="middle" textLength="19.77" lengthAdjust="spacingAndGlyphs">1,250</text>
<text x="542.00" y="573.00" font-size="9.63" fill="#333" text-anchor="middle" textLength="78.90" lengthAdjust="spacingAndGlyphs">Amino acid position</text>
<text x="404.30" y="376.40" font-size="8.99" fill="#222" textLength="38.90" lengthAdjust="spacingAndGlyphs">BE3.9max</text>
<text x="366.60" y="464.00" font-size="9.20" fill="#333" text-anchor="middle" textLength="15.70" lengthAdjust="spacingAndGlyphs" transform="rotate(-90 366.60 464.00)">LFC</text>
<text x="376.60" y="464.00" font-size="9.20" fill="#333" text-anchor="middle" textLength="103.30" lengthAdjust="spacingAndGlyphs" transform="rotate(-90 376.60 464.00)">Nontreated versus no EGF</text>
<circle cx="433.60" cy="482.94" r="2.0" fill="#52127c"/><circle cx="425.15" cy="486.94" r="2.0" fill="#58157e"/><circle cx="438.07" cy="485.79" r="2.0" fill="#61187f"/><circle cx="423.97" cy="486.75" r="2.0" fill="#57147d"/><circle cx="443.24" cy="485.28" r="2.0" fill="#2f1062"/><circle cx="422.94" cy="484.59" r="2.0" fill="#a3307e"/><circle cx="430.73" cy="491.67" r="2.0" fill="#4d117a"/><circle cx="430.71" cy="488.61" r="2.0" fill="#4f117b"/><circle cx="435.34" cy="480.57" r="2.0" fill="#b0347b"/><circle cx="421.36" cy="484.21" r="2.0" fill="#5a157e"/><circle cx="439.38" cy="483.63" r="2.0" fill="#b0347b"/><circle cx="430.55" cy="485.85" r="2.0" fill="#7f2481"/><circle cx="418.88" cy="483.63" r="2.0" fill="#63197f"/><circle cx="438.58" cy="484.07" r="2.0" fill="#651a80"/><circle cx="433.08" cy="483.23" r="2.0" fill="#4f117b"/><circle cx="428.79" cy="485.66" r="2.0" fill="#b3357a"/><circle cx="422.93" cy="486.33" r="2.0" fill="#651a80"/><circle cx="434.57" cy="484.17" r="2.0" fill="#711f81"/><circle cx="440.85" cy="485.01" r="2.0" fill="#52127c"/><circle cx="441.48" cy="484.81" r="2.0" fill="#5e177f"/><circle cx="434.03" cy="487.32" r="2.0" fill="#57147d"/><circle cx="423.57" cy="481.84" r="2.0" fill="#57147d"/><circle cx="431.59" cy="480.60" r="2.0" fill="#8a2881"/><circle cx="418.13" cy="489.10" r="2.0" fill="#2d1060"/><circle cx="428.48" cy="483.36" r="2.0" fill="#842681"/><circle cx="432.70" cy="483.23" r="2.0" fill="#61187f"/><circle cx="437.25" cy="481.68" r="2.0" fill="#61187f"/><circle cx="417.48" cy="483.75" r="2.0" fill="#420f74"/><circle cx="428.24" cy="480.85" r="2.0" fill="#5b167e"/><circle cx="437.97" cy="484.23" r="2.0" fill="#2d1060"/><circle cx="422.50" cy="490.47" r="2.0" fill="#681b80"/><circle cx="442.00" cy="486.49" r="2.0" fill="#681b80"/><circle cx="442.11" cy="479.99" r="2.0" fill="#742081"/><circle cx="430.90" cy="484.36" r="2.0" fill="#430f75"/><circle cx="428.44" cy="484.02" r="2.0" fill="#470f77"/><circle cx="419.13" cy="479.96" r="2.0" fill="#55137d"/><circle cx="423.87" cy="486.02" r="2.0" fill="#50127b"/><circle cx="433.72" cy="479.34" r="2.0" fill="#50127b"/><circle cx="422.62" cy="486.37" r="2.0" fill="#792281"/><circle cx="439.20" cy="482.82" r="2.0" fill="#742081"/><circle cx="434.49" cy="485.82" r="2.0" fill="#321067"/><circle cx="433.68" cy="483.64" r="2.0" fill="#972c7f"/><circle cx="437.21" cy="487.30" r="2.0" fill="#992d7f"/><circle cx="438.20" cy="483.97" r="2.0" fill="#4f117b"/><circle cx="418.55" cy="484.80" r="2.0" fill="#55137d"/><circle cx="452.72" cy="481.75" r="2.0" fill="#8a2881"/><circle cx="449.61" cy="480.87" r="2.0" fill="#55137d"/><circle cx="478.70" cy="481.29" r="2.0" fill="#691c80"/><circle cx="466.36" cy="487.73" r="2.0" fill="#b0347b"/><circle cx="479.52" cy="479.26" r="2.0" fill="#400f73"/><circle cx="455.33" cy="487.01" r="2.0" fill="#57147d"/><circle cx="455.17" cy="490.41" r="2.0" fill="#5d177e"/><circle cx="472.24" cy="483.74" r="2.0" fill="#470f77"/><circle cx="467.41" cy="486.88" r="2.0" fill="#350f6a"/><circle cx="467.16" cy="482.60" r="2.0" fill="#430f75"/><circle cx="470.55" cy="486.61" r="2.0" fill="#5b167e"/><circle cx="444.36" cy="482.81" r="2.0" fill="#812581"/><circle cx="478.94" cy="484.14" r="2.0" fill="#57147d"/><circle cx="468.11" cy="481.56" r="2.0" fill="#57147d"/><circle cx="468.30" cy="480.28" r="2.0" fill="#57147d"/><circle cx="463.67" cy="489.97" r="2.0" fill="#160e3a"/><circle cx="446.42" cy="483.72" r="2.0" fill="#400f73"/><circle cx="446.27" cy="483.38" r="2.0" fill="#58157e"/><circle cx="448.28" cy="481.37" r="2.0" fill="#63197f"/><circle cx="454.89" cy="482.28" r="2.0" fill="#4a1079"/><circle cx="459.73" cy="484.29" r="2.0" fill="#58157e"/><circle cx="447.00" cy="479.33" r="2.0" fill="#4f117b"/><circle cx="468.75" cy="491.97" r="2.0" fill="#5d177e"/><circle cx="471.88" cy="487.20" r="2.0" fill="#52127c"/><circle cx="471.54" cy="482.83" r="2.0" fill="#58157e"/><circle cx="473.47" cy="485.07" r="2.0" fill="#301065"/><circle cx="478.73" cy="481.02" r="2.0" fill="#651a80"/><circle cx="467.51" cy="484.65" r="2.0" fill="#53137c"/><circle cx="470.52" cy="482.14" r="2.0" fill="#57147d"/><circle cx="444.61" cy="478.89" r="2.0" fill="#61187f"/><circle cx="464.00" cy="487.30" r="2.0" fill="#57147d"/><circle cx="477.99" cy="484.57" r="2.0" fill="#53137c"/><circle cx="480.75" cy="484.59" r="2.0" fill="#470f77"/><circle cx="478.03" cy="482.07" r="2.0" fill="#ab337c"/><circle cx="465.01" cy="483.27" r="2.0" fill="#58157e"/><circle cx="477.80" cy="477.61" r="2.0" fill="#8f2a80"/><circle cx="444.58" cy="487.73" r="2.0" fill="#400f73"/><circle cx="460.49" cy="480.51" r="2.0" fill="#762181"/><circle cx="477.87" cy="477.81" r="2.0" fill="#53137c"/><circle cx="448.06" cy="485.89" r="2.0" fill="#58157e"/><circle cx="449.99" cy="486.79" r="2.0" fill="#470f77"/><circle cx="468.58" cy="484.50" r="2.0" fill="#5b167e"/><circle cx="462.79" cy="483.99" r="2.0" fill="#5b167e"/><circle cx="473.14" cy="478.06" r="2.0" fill="#63197f"/><circle cx="447.62" cy="482.66" r="2.0" fill="#2f1062"/><circle cx="479.89" cy="481.67" r="2.0" fill="#55137d"/><circle cx="477.82" cy="485.97" r="2.0" fill="#651a80"/><circle cx="445.85" cy="486.28" r="2.0" fill="#400f73"/><circle cx="472.02" cy="487.44" r="2.0" fill="#5a157e"/><circle cx="475.36" cy="480.57" r="2.0" fill="#6e1e81"/><circle cx="449.67" cy="484.27" r="2.0" fill="#50127b"/><circle cx="465.83" cy="488.34" r="2.0" fill="#681b80"/><circle cx="462.73" cy="480.76" r="2.0" fill="#321067"/><circle cx="473.62" cy="482.65" r="2.0" fill="#50127b"/><circle cx="467.60" cy="487.63" r="2.0" fill="#450f76"/><circle cx="469.42" cy="489.75" r="2.0" fill="#731f81"/><circle cx="451.23" cy="485.05" r="2.0" fill="#cb3e71"/><circle cx="443.93" cy="478.94" r="2.0" fill="#4a1079"/><circle cx="470.49" cy="485.05" r="2.0" fill="#b3357a"/><circle cx="464.37" cy="487.10" r="2.0" fill="#4d117a"/><circle cx="498.35" cy="485.53" r="2.0" fill="#470f77"/><circle cx="487.12" cy="487.86" r="2.0" fill="#57147d"/><circle cx="493.50" cy="483.85" r="2.0" fill="#4a1079"/><circle cx="503.19" cy="485.47" r="2.0" fill="#762181"/><circle cx="499.65" cy="484.57" r="2.0" fill="#481078"/><circle cx="491.90" cy="481.99" r="2.0" fill="#57147d"/><circle cx="501.77" cy="483.70" r="2.0" fill="#6b1c80"/><circle cx="491.48" cy="489.21" r="2.0" fill="#651a80"/><circle cx="500.60" cy="484.05" r="2.0" fill="#6e1e81"/><circle cx="496.34" cy="486.17" r="2.0" fill="#400f73"/><circle cx="492.57" cy="486.10" r="2.0" fill="#63197f"/><circle cx="492.85" cy="486.88" r="2.0" fill="#3e0f72"/><circle cx="496.99" cy="484.86" r="2.0" fill="#5d177e"/><circle cx="488.35" cy="483.71" r="2.0" fill="#7e2481"/><circle cx="483.03" cy="487.00" r="2.0" fill="#3c0f71"/><circle cx="503.76" cy="486.85" r="2.0" fill="#3b0f6f"/><circle cx="493.60" cy="492.61" r="2.0" fill="#61187f"/><circle cx="489.71" cy="487.21" r="2.0" fill="#912a80"/><circle cx="503.47" cy="481.32" r="2.0" fill="#4f117b"/><circle cx="487.78" cy="485.09" r="2.0" fill="#57147d"/><circle cx="488.11" cy="487.34" r="2.0" fill="#57147d"/><circle cx="486.60" cy="478.07" r="2.0" fill="#55137d"/><circle cx="488.06" cy="485.75" r="2.0" fill="#481078"/><circle cx="500.51" cy="481.98" r="2.0" fill="#55137d"/><circle cx="502.12" cy="486.12" r="2.0" fill="#430f75"/><circle cx="498.07" cy="483.14" r="2.0" fill="#58157e"/><circle cx="488.08" cy="488.03" r="2.0" fill="#4b1079"/><circle cx="493.14" cy="483.58" r="2.0" fill="#5b167e"/><circle cx="485.79" cy="485.02" r="2.0" fill="#972c7f"/><circle cx="485.55" cy="487.60" r="2.0" fill="#5d177e"/><circle cx="485.49" cy="484.30" r="2.0" fill="#4f117b"/><circle cx="497.97" cy="482.44" r="2.0" fill="#5d177e"/><circle cx="485.44" cy="485.89" r="2.0" fill="#52127c"/><circle cx="482.38" cy="483.22" r="2.0" fill="#370f6c"/><circle cx="486.89" cy="480.73" r="2.0" fill="#b0347b"/><circle cx="481.91" cy="491.72" r="2.0" fill="#5e177f"/><circle cx="497.83" cy="485.83" r="2.0" fill="#711f81"/><circle cx="507.18" cy="478.44" r="2.0" fill="#772181"/><circle cx="481.53" cy="487.78" r="2.0" fill="#4a1079"/><circle cx="504.41" cy="483.52" r="2.0" fill="#9f2f7e"/><circle cx="486.08" cy="482.05" r="2.0" fill="#6c1d80"/><circle cx="488.67" cy="482.74" r="2.0" fill="#430f75"/><circle cx="492.10" cy="484.04" r="2.0" fill="#5e177f"/><circle cx="484.93" cy="485.72" r="2.0" fill="#470f77"/><circle cx="488.37" cy="481.08" r="2.0" fill="#5e177f"/><circle cx="515.04" cy="481.52" r="2.0" fill="#1e1049"/><circle cx="510.27" cy="481.75" r="2.0" fill="#a6317d"/><circle cx="547.16" cy="481.42" r="2.0" fill="#4d117a"/><circle cx="531.48" cy="477.79" r="2.0" fill="#55137d"/><circle cx="540.63" cy="479.70" r="2.0" fill="#57147d"/><circle cx="543.81" cy="484.44" r="2.0" fill="#53137c"/><circle cx="544.57" cy="488.55" r="2.0" fill="#450f76"/><circle cx="532.22" cy="488.59" r="2.0" fill="#6c1d80"/><circle cx="523.94" cy="485.34" r="2.0" fill="#6c1d80"/><circle cx="517.24" cy="486.69" r="2.0" fill="#470f77"/><circle cx="545.85" cy="481.77" r="2.0" fill="#5d177e"/><circle cx="534.11" cy="484.95" r="2.0" fill="#691c80"/><circle cx="511.86" cy="480.11" r="2.0" fill="#842681"/><circle cx="508.78" cy="483.19" r="2.0" fill="#762181"/><circle cx="512.19" cy="483.50" r="2.0" fill="#60187f"/><circle cx="531.40" cy="488.32" r="2.0" fill="#9e2e7e"/><circle cx="516.24" cy="481.94" r="2.0" fill="#50127b"/><circle cx="537.79" cy="484.99" r="2.0" fill="#430f75"/><circle cx="546.53" cy="486.16" r="2.0" fill="#50127b"/><circle cx="518.51" cy="488.81" r="2.0" fill="#420f74"/><circle cx="539.80" cy="480.90" r="2.0" fill="#55137d"/><circle cx="545.59" cy="484.59" r="2.0" fill="#50127b"/><circle cx="535.88" cy="481.78" r="2.0" fill="#bd3977"/><circle cx="555.21" cy="481.74" r="2.0" fill="#2d1060"/><circle cx="554.52" cy="482.52" r="2.0" fill="#651a80"/><circle cx="532.23" cy="482.72" r="2.0" fill="#481078"/><circle cx="533.12" cy="484.92" r="2.0" fill="#261157"/><circle cx="515.63" cy="480.42" r="2.0" fill="#7f2481"/><circle cx="514.37" cy="486.64" r="2.0" fill="#3e0f72"/><circle cx="509.13" cy="490.07" r="2.0" fill="#5e177f"/><circle cx="541.95" cy="484.20" r="2.0" fill="#52127c"/><circle cx="522.88" cy="485.76" r="2.0" fill="#341068"/><circle cx="531.99" cy="477.72" r="2.0" fill="#731f81"/><circle cx="510.20" cy="479.39" r="2.0" fill="#57147d"/><circle cx="528.95" cy="483.58" r="2.0" fill="#4f117b"/><circle cx="554.91" cy="485.02" r="2.0" fill="#852681"/><circle cx="515.54" cy="482.21" r="2.0" fill="#661a80"/><circle cx="515.87" cy="481.02" r="2.0" fill="#5d177e"/><circle cx="557.67" cy="485.97" r="2.0" fill="#5a157e"/><circle cx="513.70" cy="489.92" r="2.0" fill="#4a1079"/><circle cx="510.16" cy="481.98" r="2.0" fill="#ac337b"/><circle cx="531.69" cy="485.93" r="2.0" fill="#63197f"/><circle cx="558.92" cy="485.01" r="2.0" fill="#370f6c"/><circle cx="548.10" cy="482.90" r="2.0" fill="#772181"/><circle cx="531.39" cy="486.21" r="2.0" fill="#450f76"/><circle cx="556.03" cy="485.87" r="2.0" fill="#2d1060"/><circle cx="528.01" cy="482.76" r="2.0" fill="#a12f7e"/><circle cx="537.03" cy="482.55" r="2.0" fill="#60187f"/><circle cx="520.31" cy="484.37" r="2.0" fill="#52127c"/><circle cx="527.41" cy="478.79" r="2.0" fill="#5a157e"/><circle cx="513.87" cy="484.74" r="2.0" fill="#55137d"/><circle cx="540.65" cy="485.85" r="2.0" fill="#63197f"/><circle cx="521.30" cy="480.83" r="2.0" fill="#8c2980"/><circle cx="516.29" cy="486.47" r="2.0" fill="#681b80"/><circle cx="518.72" cy="483.96" r="2.0" fill="#430f75"/><circle cx="522.98" cy="490.38" r="2.0" fill="#390f6e"/><circle cx="510.63" cy="484.44" r="2.0" fill="#321067"/><circle cx="525.47" cy="482.14" r="2.0" fill="#ab337c"/><circle cx="512.33" cy="487.49" r="2.0" fill="#a4307d"/><circle cx="555.36" cy="485.35" r="2.0" fill="#6b1c80"/><circle cx="508.97" cy="476.15" r="2.0" fill="#661a80"/><circle cx="540.65" cy="482.85" r="2.0" fill="#842681"/><circle cx="509.77" cy="483.82" r="2.0" fill="#a6317d"/><circle cx="554.14" cy="487.28" r="2.0" fill="#ae347b"/><circle cx="542.69" cy="483.39" r="2.0" fill="#9f2f7e"/><circle cx="538.00" cy="481.56" r="2.0" fill="#4f117b"/><circle cx="534.72" cy="483.49" r="2.0" fill="#9f2f7e"/><circle cx="543.54" cy="486.86" r="2.0" fill="#53137c"/><circle cx="517.44" cy="483.30" r="2.0" fill="#420f74"/><circle cx="520.83" cy="477.59" r="2.0" fill="#53137c"/><circle cx="586.91" cy="483.55" r="2.0" fill="#762181"/><circle cx="598.35" cy="484.02" r="2.0" fill="#742081"/><circle cx="576.52" cy="483.00" r="2.0" fill="#661a80"/><circle cx="564.38" cy="485.48" r="2.0" fill="#2a115c"/><circle cx="562.06" cy="483.40" r="2.0" fill="#58157e"/><circle cx="611.52" cy="486.06" r="2.0" fill="#53137c"/><circle cx="593.45" cy="480.17" r="2.0" fill="#4a1079"/><circle cx="604.15" cy="484.16" r="2.0" fill="#3c0f71"/><circle cx="585.04" cy="480.17" r="2.0" fill="#ac337b"/><circle cx="595.47" cy="482.76" r="2.0" fill="#992d7f"/><circle cx="580.09" cy="483.77" r="2.0" fill="#4b1079"/><circle cx="568.60" cy="483.20" r="2.0" fill="#691c80"/><circle cx="584.72" cy="476.82" r="2.0" fill="#470f77"/><circle cx="574.90" cy="478.11" r="2.0" fill="#792281"/><circle cx="610.11" cy="481.80" r="2.0" fill="#681b80"/><circle cx="579.96" cy="482.45" r="2.0" fill="#651a80"/><circle cx="593.42" cy="490.87" r="2.0" fill="#651a80"/><circle cx="613.14" cy="484.57" r="2.0" fill="#450f76"/><circle cx="612.56" cy="486.70" r="2.0" fill="#370f6c"/><circle cx="593.35" cy="484.35" r="2.0" fill="#6c1d80"/><circle cx="575.08" cy="483.81" r="2.0" fill="#55137d"/><circle cx="609.92" cy="484.92" r="2.0" fill="#52127c"/><circle cx="566.47" cy="486.66" r="2.0" fill="#6c1d80"/><circle cx="582.73" cy="486.42" r="2.0" fill="#5e177f"/><circle cx="581.07" cy="477.60" r="2.0" fill="#5e177f"/><circle cx="598.69" cy="485.92" r="2.0" fill="#50127b"/><circle cx="586.91" cy="483.71" r="2.0" fill="#9c2e7f"/><circle cx="613.69" cy="482.71" r="2.0" fill="#481078"/><circle cx="559.89" cy="483.02" r="2.0" fill="#8f2a80"/><circle cx="591.73" cy="486.86" r="2.0" fill="#772181"/><circle cx="603.42" cy="488.12" r="2.0" fill="#5d177e"/><circle cx="593.77" cy="482.10" r="2.0" fill="#7a2281"/><circle cx="587.23" cy="486.88" r="2.0" fill="#63197f"/><circle cx="599.38" cy="484.00" r="2.0" fill="#7a2281"/><circle cx="582.43" cy="481.13" r="2.0" fill="#50127b"/><circle cx="594.33" cy="488.14" r="2.0" fill="#5a157e"/><circle cx="584.90" cy="487.30" r="2.0" fill="#450f76"/><circle cx="576.50" cy="486.41" r="2.0" fill="#4a1079"/><circle cx="611.33" cy="485.02" r="2.0" fill="#400f73"/><circle cx="563.13" cy="490.78" r="2.0" fill="#661a80"/><circle cx="569.28" cy="478.07" r="2.0" fill="#6f1e81"/><circle cx="604.41" cy="480.27" r="2.0" fill="#481078"/><circle cx="559.38" cy="488.83" r="2.0" fill="#8d2980"/><circle cx="595.04" cy="484.57" r="2.0" fill="#5b167e"/><circle cx="608.40" cy="480.34" r="2.0" fill="#2a115c"/><circle cx="583.83" cy="483.45" r="2.0" fill="#5b167e"/><circle cx="589.35" cy="481.41" r="2.0" fill="#c33b74"/><circle cx="613.30" cy="488.40" r="2.0" fill="#ae347b"/><circle cx="608.04" cy="484.51" r="2.0" fill="#972c7f"/><circle cx="569.92" cy="485.10" r="2.0" fill="#4f117b"/><circle cx="593.68" cy="486.64" r="2.0" fill="#53137c"/><circle cx="579.02" cy="482.30" r="2.0" fill="#5e177f"/><circle cx="600.98" cy="484.82" r="2.0" fill="#b63679"/><circle cx="607.59" cy="486.19" r="2.0" fill="#4d117a"/><circle cx="580.27" cy="486.09" r="2.0" fill="#6e1e81"/><circle cx="577.70" cy="486.13" r="2.0" fill="#2d1060"/><circle cx="598.00" cy="481.85" r="2.0" fill="#3b0f6f"/><circle cx="612.19" cy="482.88" r="2.0" fill="#58157e"/><circle cx="605.79" cy="479.84" r="2.0" fill="#ab337c"/><circle cx="562.69" cy="487.15" r="2.0" fill="#58157e"/><circle cx="566.11" cy="483.57" r="2.0" fill="#872781"/><circle cx="586.55" cy="486.50" r="2.0" fill="#55137d"/><circle cx="609.54" cy="480.62" r="2.0" fill="#4d117a"/><circle cx="586.18" cy="486.74" r="2.0" fill="#61187f"/><circle cx="609.48" cy="485.02" r="2.0" fill="#58157e"/><circle cx="576.71" cy="484.64" r="2.0" fill="#301065"/><circle cx="563.68" cy="490.65" r="2.0" fill="#50127b"/><circle cx="608.34" cy="486.37" r="2.0" fill="#9f2f7e"/><circle cx="612.14" cy="484.32" r="2.0" fill="#470f77"/><circle cx="609.63" cy="481.88" r="2.0" fill="#691c80"/><circle cx="605.47" cy="480.22" r="2.0" fill="#6e1e81"/><circle cx="566.61" cy="484.40" r="2.0" fill="#681b80"/><circle cx="587.83" cy="485.51" r="2.0" fill="#50127b"/><circle cx="609.35" cy="489.27" r="2.0" fill="#450f76"/><circle cx="609.55" cy="480.79" r="2.0" fill="#57147d"/><circle cx="647.06" cy="482.62" r="2.0" fill="#be3976"/><circle cx="641.91" cy="488.51" r="2.0" fill="#470f77"/><circle cx="616.75" cy="479.82" r="2.0" fill="#5d177e"/><circle cx="643.50" cy="479.95" r="2.0" fill="#50127b"/><circle cx="636.73" cy="482.98" r="2.0" fill="#651a80"/><circle cx="654.66" cy="480.19" r="2.0" fill="#731f81"/><circle cx="667.63" cy="484.27" r="2.0" fill="#5e177f"/><circle cx="639.47" cy="484.98" r="2.0" fill="#450f76"/><circle cx="651.97" cy="483.18" r="2.0" fill="#691c80"/><circle cx="636.90" cy="491.49" r="2.0" fill="#4a1079"/><circle cx="627.50" cy="483.25" r="2.0" fill="#6f1e81"/><circle cx="660.18" cy="477.57" r="2.0" fill="#4f117b"/><circle cx="663.77" cy="482.54" r="2.0" fill="#4a1079"/><circle cx="649.93" cy="486.73" r="2.0" fill="#5b167e"/><circle cx="650.78" cy="482.84" r="2.0" fill="#55137d"/><circle cx="632.13" cy="479.57" r="2.0" fill="#57147d"/><circle cx="651.64" cy="481.09" r="2.0" fill="#711f81"/><circle cx="658.65" cy="485.53" r="2.0" fill="#61187f"/><circle cx="618.81" cy="482.57" r="2.0" fill="#6c1d80"/><circle cx="638.76" cy="488.47" r="2.0" fill="#400f73"/><circle cx="655.15" cy="486.49" r="2.0" fill="#6f1e81"/><circle cx="648.42" cy="480.75" r="2.0" fill="#a3307e"/><circle cx="628.56" cy="485.51" r="2.0" fill="#57147d"/><circle cx="641.03" cy="483.06" r="2.0" fill="#450f76"/><circle cx="651.47" cy="484.04" r="2.0" fill="#681b80"/><circle cx="647.58" cy="485.73" r="2.0" fill="#762181"/><circle cx="626.29" cy="483.18" r="2.0" fill="#772181"/><circle cx="663.29" cy="488.25" r="2.0" fill="#742081"/><circle cx="621.18" cy="484.55" r="2.0" fill="#350f6a"/><circle cx="641.38" cy="481.64" r="2.0" fill="#711f81"/><circle cx="653.39" cy="479.72" r="2.0" fill="#3e0f72"/><circle cx="621.91" cy="481.13" r="2.0" fill="#60187f"/><circle cx="659.35" cy="487.86" r="2.0" fill="#58157e"/><circle cx="659.23" cy="487.79" r="2.0" fill="#4d117a"/><circle cx="668.27" cy="488.94" r="2.0" fill="#5b167e"/><circle cx="634.55" cy="488.51" r="2.0" fill="#4a1079"/><circle cx="635.92" cy="484.88" r="2.0" fill="#792281"/><circle cx="658.03" cy="487.95" r="2.0" fill="#5e177f"/><circle cx="639.71" cy="486.92" r="2.0" fill="#61187f"/><circle cx="624.60" cy="481.93" r="2.0" fill="#63197f"/><circle cx="658.18" cy="482.58" r="2.0" fill="#4b1079"/><circle cx="649.77" cy="481.53" r="2.0" fill="#772181"/><circle cx="655.23" cy="487.36" r="2.0" fill="#6b1c80"/><circle cx="651.15" cy="483.40" r="2.0" fill="#400f73"/><circle cx="622.74" cy="491.69" r="2.0" fill="#912a80"/><circle cx="660.99" cy="486.69" r="2.0" fill="#742081"/><circle cx="626.17" cy="483.93" r="2.0" fill="#3e0f72"/><circle cx="666.41" cy="489.14" r="2.0" fill="#5a157e"/><circle cx="642.16" cy="484.20" r="2.0" fill="#7e2481"/><circle cx="641.99" cy="480.11" r="2.0" fill="#481078"/><circle cx="668.50" cy="487.72" r="2.0" fill="#52127c"/><circle cx="621.82" cy="478.80" r="2.0" fill="#481078"/><circle cx="637.71" cy="487.43" r="2.0" fill="#c83d72"/><circle cx="636.57" cy="486.09" r="2.0" fill="#661a80"/><circle cx="644.62" cy="482.96" r="2.0" fill="#5d177e"/><circle cx="632.76" cy="485.12" r="2.0" fill="#341068"/><circle cx="639.54" cy="484.31" r="2.0" fill="#430f75"/><circle cx="657.09" cy="488.27" r="2.0" fill="#470f77"/><circle cx="651.34" cy="478.57" r="2.0" fill="#b93778"/><circle cx="627.07" cy="479.21" r="2.0" fill="#4a1079"/><circle cx="666.93" cy="478.97" r="2.0" fill="#420f74"/><circle cx="631.54" cy="483.55" r="2.0" fill="#390f6e"/><circle cx="637.36" cy="483.17" r="2.0" fill="#6f1e81"/><circle cx="640.52" cy="486.08" r="2.0" fill="#5d177e"/><circle cx="619.99" cy="479.74" r="2.0" fill="#450f76"/><circle cx="655.71" cy="487.10" r="2.0" fill="#992d7f"/><circle cx="658.32" cy="481.84" r="2.0" fill="#4b1079"/><circle cx="633.71" cy="484.17" r="2.0" fill="#6c1d80"/><circle cx="624.68" cy="483.97" r="2.0" fill="#53137c"/><circle cx="648.52" cy="479.18" r="2.0" fill="#450f76"/><circle cx="657.92" cy="485.19" r="2.0" fill="#661a80"/><circle cx="649.23" cy="487.64" r="2.0" fill="#792281"/><circle cx="667.27" cy="481.39" r="2.0" fill="#762181"/><circle cx="618.64" cy="475.47" r="2.0" fill="#3e0f72"/><circle cx="625.20" cy="482.56" r="2.0" fill="#661a80"/><circle cx="659.08" cy="482.57" r="2.0" fill="#450f76"/><circle cx="643.54" cy="484.32" r="2.0" fill="#5b167e"/><circle cx="626.38" cy="477.58" r="2.0" fill="#6f1e81"/><circle cx="615.55" cy="484.15" r="2.0" fill="#63197f"/><circle cx="661.35" cy="481.51" r="2.0" fill="#942b80"/><circle cx="439.25" cy="491.54" r="2.0" fill="#4d117a"/><circle cx="429.85" cy="490.83" r="2.0" fill="#52127c"/><circle cx="438.98" cy="489.74" r="2.0" fill="#481078"/><circle cx="457.80" cy="498.69" r="2.0" fill="#691c80"/><circle cx="478.82" cy="508.07" r="2.0" fill="#390f6e"/><circle cx="468.86" cy="495.10" r="2.0" fill="#221150"/><circle cx="443.45" cy="505.57" r="2.0" fill="#481078"/><circle cx="446.34" cy="495.94" r="2.0" fill="#3c0f71"/><circle cx="470.62" cy="490.17" r="2.0" fill="#691c80"/><circle cx="477.12" cy="505.98" r="2.0" fill="#4f117b"/><circle cx="464.41" cy="494.21" r="2.0" fill="#50127b"/><circle cx="472.01" cy="499.61" r="2.0" fill="#450f76"/><circle cx="451.48" cy="497.13" r="2.0" fill="#6e1e81"/><circle cx="482.70" cy="496.49" r="2.0" fill="#5b167e"/><circle cx="488.90" cy="496.14" r="2.0" fill="#430f75"/><circle cx="491.37" cy="499.84" r="2.0" fill="#390f6e"/><circle cx="486.45" cy="502.63" r="2.0" fill="#55137d"/><circle cx="493.61" cy="501.33" r="2.0" fill="#50127b"/><circle cx="504.34" cy="502.88" r="2.0" fill="#4a1079"/><circle cx="500.83" cy="492.55" r="2.0" fill="#400f73"/><circle cx="488.01" cy="494.14" r="2.0" fill="#2d1060"/><circle cx="491.92" cy="490.38" r="2.0" fill="#481078"/><circle cx="501.57" cy="502.32" r="2.0" fill="#4f117b"/><circle cx="498.63" cy="503.31" r="2.0" fill="#5a157e"/><circle cx="486.33" cy="494.30" r="2.0" fill="#651a80"/><circle cx="517.19" cy="501.62" r="2.0" fill="#61187f"/><circle cx="541.62" cy="501.46" r="2.0" fill="#53137c"/><circle cx="520.95" cy="505.22" r="2.0" fill="#420f74"/><circle cx="545.00" cy="491.54" r="2.0" fill="#420f74"/><circle cx="537.66" cy="495.90" r="2.0" fill="#400f73"/><circle cx="534.66" cy="501.16" r="2.0" fill="#430f75"/><circle cx="521.89" cy="497.86" r="2.0" fill="#55137d"/><circle cx="530.61" cy="490.90" r="2.0" fill="#400f73"/><circle cx="518.67" cy="490.33" r="2.0" fill="#5e177f"/><circle cx="523.34" cy="501.59" r="2.0" fill="#61187f"/><circle cx="511.19" cy="509.38" r="2.0" fill="#3e0f72"/><circle cx="517.92" cy="499.03" r="2.0" fill="#731f81"/><circle cx="516.94" cy="504.25" r="2.0" fill="#470f77"/><circle cx="546.90" cy="504.54" r="2.0" fill="#52127c"/><circle cx="571.72" cy="501.10" r="2.0" fill="#661a80"/><circle cx="580.37" cy="499.70" r="2.0" fill="#370f6c"/><circle cx="560.36" cy="495.82" r="2.0" fill="#4b1079"/><circle cx="613.81" cy="494.94" r="2.0" fill="#4a1079"/><circle cx="582.02" cy="503.99" r="2.0" fill="#4b1079"/><circle cx="605.36" cy="494.28" r="2.0" fill="#400f73"/><circle cx="567.98" cy="508.97" r="2.0" fill="#4a1079"/><circle cx="599.39" cy="508.04" r="2.0" fill="#4f117b"/><circle cx="564.18" cy="502.63" r="2.0" fill="#681b80"/><circle cx="585.49" cy="506.81" r="2.0" fill="#5d177e"/><circle cx="586.47" cy="500.51" r="2.0" fill="#390f6e"/><circle cx="581.43" cy="493.52" r="2.0" fill="#470f77"/><circle cx="628.76" cy="492.59" r="2.0" fill="#58157e"/><circle cx="620.47" cy="492.15" r="2.0" fill="#481078"/><circle cx="631.37" cy="492.51" r="2.0" fill="#3e0f72"/><circle cx="543.23" cy="471.96" r="2.0" fill="#3c0f71"/><circle cx="631.88" cy="474.02" r="2.0" fill="#55137d"/><circle cx="521.41" cy="475.64" r="2.0" fill="#321067"/><circle cx="433.66" cy="475.93" r="2.0" fill="#420f74"/><circle cx="565.37" cy="475.30" r="2.0" fill="#350f6a"/><circle cx="519.83" cy="472.62" r="2.0" fill="#321067"/><circle cx="641.55" cy="476.79" r="2.0" fill="#430f75"/><circle cx="640.21" cy="469.67" r="2.0" fill="#4b1079"/><circle cx="625.55" cy="475.69" r="2.0" fill="#3c0f71"/><circle cx="530.54" cy="477.13" r="2.0" fill="#681b80"/><circle cx="540.20" cy="435.40" r="2.0" fill="#420f74"/><circle cx="481.50" cy="453.30" r="2.0" fill="#350f6a"/><circle cx="538.30" cy="451.20" r="2.0" fill="#420f74"/><circle cx="540.20" cy="462.40" r="2.0" fill="#3b0f6f"/><circle cx="541.10" cy="470.80" r="2.0" fill="#420f74"/><circle cx="565.60" cy="455.00" r="2.0" fill="#350f6a"/><circle cx="567.70" cy="470.00" r="2.0" fill="#f66e5b"/><circle cx="580.00" cy="445.50" r="2.0" fill="#350f6a"/><circle cx="603.40" cy="451.50" r="2.0" fill="#fdda9c"/><circle cx="632.10" cy="457.30" r="2.0" fill="#3b0f6f"/><circle cx="632.10" cy="462.10" r="2.0" fill="#3b0f6f"/><circle cx="632.10" cy="466.60" r="2.0" fill="#3b0f6f"/><circle cx="637.50" cy="470.50" r="2.0" fill="#470f77"/><circle cx="421.60" cy="467.90" r="2.0" fill="#470f77"/><circle cx="576.00" cy="462.00" r="2.0" fill="#420f74"/><circle cx="577.50" cy="464.50" r="2.0" fill="#420f74"/><circle cx="559.80" cy="533.80" r="2.0" fill="#3b0f6f"/><circle cx="559.80" cy="523.50" r="2.0" fill="#3b0f6f"/><circle cx="556.30" cy="523.00" r="2.0" fill="#3b0f6f"/><circle cx="560.30" cy="522.60" r="2.0" fill="#3b0f6f"/><circle cx="548.20" cy="518.50" r="2.0" fill="#3b0f6f"/><circle cx="596.20" cy="525.20" r="2.0" fill="#3b0f6f"/><circle cx="581.50" cy="513.40" r="2.0" fill="#3b0f6f"/><circle cx="612.50" cy="516.40" r="2.0" fill="#3b0f6f"/><circle cx="635.00" cy="517.00" r="2.0" fill="#3b0f6f"/><circle cx="643.00" cy="522.50" r="2.0" fill="#3b0f6f"/><circle cx="612.50" cy="509.00" r="2.0" fill="#3b0f6f"/><circle cx="612.50" cy="504.50" r="2.0" fill="#3b0f6f"/><circle cx="594.40" cy="505.00" r="2.0" fill="#3b0f6f"/><circle cx="598.50" cy="503.80" r="2.0" fill="#3b0f6f"/><circle cx="563.00" cy="510.00" r="2.0" fill="#3b0f6f"/><circle cx="559.00" cy="505.00" r="2.0" fill="#3b0f6f"/><circle cx="626.00" cy="499.00" r="2.0" fill="#3b0f6f"/><circle cx="640.00" cy="503.00" r="2.0" fill="#3b0f6f"/><circle cx="640.00" cy="505.00" r="2.0" fill="#3b0f6f"/>
<text x="467.90" y="437.40" font-size="7.17" fill="#222" textLength="69.20" lengthAdjust="spacingAndGlyphs">Cys595Cys;Pro596Ser</text>
<text x="501.70" y="453.50" font-size="7.17" fill="#222" textLength="33.60" lengthAdjust="spacingAndGlyphs">Asp587Asn</text>
<text x="467.90" y="465.10" font-size="7.17" fill="#222" textLength="69.20" lengthAdjust="spacingAndGlyphs">Cys595Cys;Pro596Leu</text>
<text x="550.20" y="431.20" font-size="7.17" fill="#222" textLength="68.20" lengthAdjust="spacingAndGlyphs">Gly719Gly;Ser720Phe</text>
<text x="583.40" y="448.00" font-size="7.17" fill="#222" textLength="66.90" lengthAdjust="spacingAndGlyphs">Thr790Met;Gln791Ter</text>
<text x="647.60" y="460.80" font-size="7.17" fill="#222" textLength="29.70" lengthAdjust="spacingAndGlyphs">Exon25;+1</text>
<text x="455.5" y="450" font-size="6.7" fill="#222" textLength="35.5" lengthAdjust="spacingAndGlyphs">Asp314Asn</text>
<text x="491.60" y="447.00" font-size="4.82" fill="#222" textLength="2.50" lengthAdjust="spacingAndGlyphs">a</text>
<g stroke="#222" stroke-width="0.6"><line x1="575.6" y1="434.9" x2="566.9" y2="453.3"/><line x1="645.8" y1="458.4" x2="634" y2="457.3"/><line x1="645.8" y1="458.4" x2="634" y2="462.1"/><line x1="645.8" y1="458.4" x2="634" y2="466.6"/></g>
<rect x="415.2" y="579.2" width="30.7" height="21.6" rx="11.0" fill="#7ac8ad" stroke="#1a1a1a" stroke-width="0.9"/>
<rect x="445.4" y="579.2" width="36.5" height="21.6" rx="11.0" fill="#e8e8e8" stroke="#1a1a1a" stroke-width="0.9"/>
<rect x="481.9" y="579.2" width="27.4" height="21.6" rx="11.0" fill="#7ac8ad" stroke="#1a1a1a" stroke-width="0.9"/>
<rect x="509.3" y="579.2" width="37.0" height="21.6" rx="11.0" fill="#e8e8e8" stroke="#1a1a1a" stroke-width="0.9"/>
<rect x="546.9" y="579.2" width="4.1" height="21.6" rx="2.1" fill="#f6c88e" stroke="#1a1a1a" stroke-width="0.9"/>
<rect x="551.4" y="579.2" width="8.1" height="21.6" rx="4.1" fill="#e8e8e8" stroke="#1a1a1a" stroke-width="0.9"/>
<rect x="559.5" y="579.2" width="54.8" height="21.6" rx="11.0" fill="#ec97a5" stroke="#1a1a1a" stroke-width="0.9"/>
<rect x="614.3" y="579.2" width="68.7" height="21.6" rx="11.0" fill="#9fb9dc" stroke="#1a1a1a" stroke-width="0.9"/>
<text x="429.80" y="589.10" font-size="7.49" fill="#10281f" text-anchor="middle" textLength="12.10" lengthAdjust="spacingAndGlyphs">EGF</text>
<text x="429.80" y="594.90" font-size="7.49" fill="#10281f" text-anchor="middle" textLength="23.40" lengthAdjust="spacingAndGlyphs">binding</text>
<text x="496.20" y="589.10" font-size="7.49" fill="#10281f" text-anchor="middle" textLength="12.10" lengthAdjust="spacingAndGlyphs">EGF</text>
<text x="496.20" y="594.90" font-size="7.49" fill="#10281f" text-anchor="middle" textLength="23.40" lengthAdjust="spacingAndGlyphs">binding</text>
<text x="587.00" y="588.00" font-size="7.06" fill="#2a0a12" text-anchor="middle" textLength="26.70" lengthAdjust="spacingAndGlyphs">Tyrosine</text>
<text x="587.00" y="594.60" font-size="7.06" fill="#2a0a12" text-anchor="middle" textLength="18.70" lengthAdjust="spacingAndGlyphs">kinase</text>
<text x="649.30" y="592.60" font-size="7.06" fill="#0c1a30" text-anchor="middle" textLength="65.00" lengthAdjust="spacingAndGlyphs">Autophosphorylation</text>
<text x="0.80" y="334.20" font-size="12.00" fill="#000" font-weight="bold" stroke="#000" stroke-width="0.35">d</text>
<rect x="0.4" y="348.3" width="26.4" height="36.0" rx="13.2" ry="13.3" fill="#7ac8ad" stroke="#1a1a1a" stroke-width="0.9"/>
<rect x="0.4" y="384.5" width="26.4" height="48.3" rx="13.2" ry="13.3" fill="#e8e8e8" stroke="#1a1a1a" stroke-width="0.9"/>
<rect x="0.4" y="433.2" width="26.4" height="34.6" rx="13.2" ry="13.3" fill="#7ac8ad" stroke="#1a1a1a" stroke-width="0.9"/>
<rect x="0.4" y="468.3" width="26.4" height="47.5" rx="13.2" ry="13.3" fill="#e8e8e8" stroke="#1a1a1a" stroke-width="0.9"/>
<rect x="0.4" y="516.4" width="26.4" height="5.9" rx="13.2" ry="2.9" fill="#f6c88e" stroke="#1a1a1a" stroke-width="0.9"/>
<rect x="0.4" y="522.9" width="26.4" height="10.1" rx="13.2" ry="5.1" fill="#e8e8e8" stroke="#1a1a1a" stroke-width="0.9"/>
<rect x="0.4" y="533.6" width="26.4" height="72.7" rx="13.2" ry="13.3" fill="#ec97a5" stroke="#1a1a1a" stroke-width="0.9"/>
<rect x="0.4" y="606.6" width="26.4" height="76.8" rx="13.2" ry="13.3" fill="#9fb9dc" stroke="#1a1a1a" stroke-width="0.9"/>
<text x="11.70" y="366.60" font-size="7.17" fill="#10281f" text-anchor="middle" textLength="12.90" lengthAdjust="spacingAndGlyphs" transform="rotate(-90 11.70 366.60)">EGF</text>
<text x="20.00" y="366.60" font-size="7.17" fill="#10281f" text-anchor="middle" textLength="25.00" lengthAdjust="spacingAndGlyphs" transform="rotate(-90 20.00 366.60)">binding</text>
<text x="11.70" y="450.80" font-size="7.17" fill="#10281f" text-anchor="middle" textLength="12.90" lengthAdjust="spacingAndGlyphs" transform="rotate(-90 11.70 450.80)">EGF</text>
<text x="20.00" y="450.80" font-size="7.17" fill="#10281f" text-anchor="middle" textLength="25.00" lengthAdjust="spacingAndGlyphs" transform="rotate(-90 20.00 450.80)">binding</text>
<text x="17.00" y="569.60" font-size="7.70" fill="#2a0a12" text-anchor="middle" textLength="52.00" lengthAdjust="spacingAndGlyphs" transform="rotate(-90 17.00 569.60)">Tyrosine kinase</text>
<text x="17.00" y="644.40" font-size="7.70" fill="#0c1a30" text-anchor="middle" textLength="70.50" lengthAdjust="spacingAndGlyphs" transform="rotate(-90 17.00 644.40)">Autophosphorylation</text>
<path d="M55.5,330.3 V700.7 H344.2" stroke="#a0a0a0" stroke-width="1.0" fill="none"/>
<line x1="52.5" y1="346.10" x2="55.5" y2="346.10" stroke="#999" stroke-width="0.8"/>
<text x="48.40" y="348.70" font-size="8.13" fill="#333" text-anchor="end" textLength="4.23" lengthAdjust="spacingAndGlyphs">0</text>
<line x1="52.5" y1="373.15" x2="55.5" y2="373.15" stroke="#999" stroke-width="0.8"/>
<text x="48.40" y="375.75" font-size="8.13" fill="#333" text-anchor="end" textLength="12.68" lengthAdjust="spacingAndGlyphs">100</text>
<line x1="52.5" y1="400.20" x2="55.5" y2="400.20" stroke="#999" stroke-width="0.8"/>
<text x="48.40" y="402.80" font-size="8.13" fill="#333" text-anchor="end" textLength="12.68" lengthAdjust="spacingAndGlyphs">200</text>
<line x1="52.5" y1="427.25" x2="55.5" y2="427.25" stroke="#999" stroke-width="0.8"/>
<text x="48.40" y="429.85" font-size="8.13" fill="#333" text-anchor="end" textLength="12.68" lengthAdjust="spacingAndGlyphs">300</text>
<line x1="52.5" y1="454.30" x2="55.5" y2="454.30" stroke="#999" stroke-width="0.8"/>
<text x="48.40" y="456.90" font-size="8.13" fill="#333" text-anchor="end" textLength="12.68" lengthAdjust="spacingAndGlyphs">400</text>
<line x1="52.5" y1="481.35" x2="55.5" y2="481.35" stroke="#999" stroke-width="0.8"/>
<text x="48.40" y="483.95" font-size="8.13" fill="#333" text-anchor="end" textLength="12.68" lengthAdjust="spacingAndGlyphs">500</text>
<line x1="52.5" y1="508.40" x2="55.5" y2="508.40" stroke="#999" stroke-width="0.8"/>
<text x="48.40" y="511.00" font-size="8.13" fill="#333" text-anchor="end" textLength="12.68" lengthAdjust="spacingAndGlyphs">600</text>
<line x1="52.5" y1="535.45" x2="55.5" y2="535.45" stroke="#999" stroke-width="0.8"/>
<text x="48.40" y="538.05" font-size="8.13" fill="#333" text-anchor="end" textLength="12.68" lengthAdjust="spacingAndGlyphs">700</text>
<line x1="52.5" y1="562.50" x2="55.5" y2="562.50" stroke="#999" stroke-width="0.8"/>
<text x="48.40" y="565.10" font-size="8.13" fill="#333" text-anchor="end" textLength="12.68" lengthAdjust="spacingAndGlyphs">800</text>
<line x1="52.5" y1="589.55" x2="55.5" y2="589.55" stroke="#999" stroke-width="0.8"/>
<text x="48.40" y="592.15" font-size="8.13" fill="#333" text-anchor="end" textLength="12.68" lengthAdjust="spacingAndGlyphs">900</text>
<line x1="52.5" y1="616.60" x2="55.5" y2="616.60" stroke="#999" stroke-width="0.8"/>
<text x="48.40" y="619.20" font-size="8.13" fill="#333" text-anchor="end" textLength="19.02" lengthAdjust="spacingAndGlyphs">1,000</text>
<line x1="52.5" y1="643.65" x2="55.5" y2="643.65" stroke="#999" stroke-width="0.8"/>
<text x="48.40" y="646.25" font-size="8.13" fill="#333" text-anchor="end" textLength="19.02" lengthAdjust="spacingAndGlyphs">1,100</text>
<line x1="52.5" y1="670.70" x2="55.5" y2="670.70" stroke="#999" stroke-width="0.8"/>
<text x="48.40" y="673.30" font-size="8.13" fill="#333" text-anchor="end" textLength="19.02" lengthAdjust="spacingAndGlyphs">1,200</text>
<line x1="68.50" y1="700.7" x2="68.50" y2="703.5" stroke="#999" stroke-width="0.8"/>
<text x="68.50" y="714.00" font-size="8.35" fill="#333" text-anchor="middle" textLength="4.34" lengthAdjust="spacingAndGlyphs">0</text>
<line x1="131.10" y1="700.7" x2="131.10" y2="703.5" stroke="#999" stroke-width="0.8"/>
<text x="131.10" y="714.00" font-size="8.35" fill="#333" text-anchor="middle" textLength="10.84" lengthAdjust="spacingAndGlyphs">0.2</text>
<line x1="193.70" y1="700.7" x2="193.70" y2="703.5" stroke="#999" stroke-width="0.8"/>
<text x="193.70" y="714.00" font-size="8.35" fill="#333" text-anchor="middle" textLength="10.84" lengthAdjust="spacingAndGlyphs">0.4</text>
<line x1="256.30" y1="700.7" x2="256.30" y2="703.5" stroke="#999" stroke-width="0.8"/>
<text x="256.30" y="714.00" font-size="8.35" fill="#333" text-anchor="middle" textLength="10.84" lengthAdjust="spacingAndGlyphs">0.6</text>
<line x1="318.90" y1="700.7" x2="318.90" y2="703.5" stroke="#999" stroke-width="0.8"/>
<text x="318.90" y="714.00" font-size="8.35" fill="#333" text-anchor="middle" textLength="10.84" lengthAdjust="spacingAndGlyphs">0.8</text>
<text x="200.10" y="726.60" font-size="8.77" fill="#333" text-anchor="middle" textLength="15.40" lengthAdjust="spacingAndGlyphs">LFC</text>
<circle cx="227.5" cy="334.2" r="4.1" fill="#7b7b7b" stroke="#222" stroke-width="0.7"/>
<text x="237.50" y="336.80" font-size="7.70" fill="#333" textLength="34.50" lengthAdjust="spacingAndGlyphs">Not listed</text>
<circle cx="227.5" cy="347.5" r="4.1" fill="#3a74b8" stroke="#222" stroke-width="0.7"/>
<text x="237.50" y="350.10" font-size="7.70" fill="#333" textLength="75.50" lengthAdjust="spacingAndGlyphs">Uncertain significance</text>
<circle cx="227.5" cy="360.8" r="4.1" fill="#d8354f" stroke="#222" stroke-width="0.7"/>
<text x="237.50" y="363.40" font-size="7.70" fill="#333" textLength="98.70" lengthAdjust="spacingAndGlyphs">Pathogenic/likely pathogenic</text>
<circle cx="227.5" cy="373.1" r="4.1" fill="#f2b43c" stroke="#222" stroke-width="0.7"/>
<text x="237.50" y="375.70" font-size="7.70" fill="#333" textLength="28.50" lengthAdjust="spacingAndGlyphs">COSMIC</text>
<polygon points="223.4,389.3 227.3,382.6 231.2,389.3" fill="none" stroke="#222" stroke-width="0.8" stroke-linejoin="round"/>
<text x="237.50" y="388.70" font-size="7.70" fill="#333" textLength="21.20" lengthAdjust="spacingAndGlyphs">ABE8e</text>
<rect x="223.7" y="394.2" width="7.6" height="7.6" fill="none" stroke="#222" stroke-width="0.8"/>
<text x="237.50" y="400.60" font-size="7.70" fill="#333" textLength="33.00" lengthAdjust="spacingAndGlyphs">BE3.9Max</text>
<line x1="68.5" y1="431.2" x2="231.8" y2="431.2" stroke="#222" stroke-width="0.9"/>
<line x1="68.5" y1="446.1" x2="192" y2="446.1" stroke="#222" stroke-width="0.9"/>
<line x1="68.5" y1="504.4" x2="246" y2="504.4" stroke="#8a8a8a" stroke-width="0.9"/>
<line x1="68.5" y1="507.3" x2="331" y2="507.3" stroke="#222" stroke-width="0.9"/>
<line x1="68.5" y1="510.8" x2="261.5" y2="510.8" stroke="#8a8a8a" stroke-width="0.9"/>
<line x1="68.5" y1="539.5" x2="173" y2="539.5" stroke="#8a8a8a" stroke-width="0.9"/>
<line x1="68.5" y1="541.2" x2="221.8" y2="541.2" stroke="#8a8a8a" stroke-width="0.9"/>
<line x1="68.5" y1="543" x2="197.2" y2="543" stroke="#8a8a8a" stroke-width="0.9"/>
<line x1="68.5" y1="553.6" x2="184.7" y2="553.6" stroke="#222" stroke-width="1.5"/>
<line x1="68.5" y1="559.9" x2="276.2" y2="559.9" stroke="#8a8a8a" stroke-width="0.9"/>
<line x1="68.5" y1="565.6" x2="206.5" y2="565.6" stroke="#8a8a8a" stroke-width="0.9"/>
<line x1="68.5" y1="611.4" x2="176" y2="611.4" stroke="#222" stroke-width="0.9"/>
<line x1="68.5" y1="623.3" x2="163.5" y2="623.3" stroke="#8a8a8a" stroke-width="0.9"/>
<line x1="68.5" y1="627" x2="212.4" y2="627" stroke="#8a8a8a" stroke-width="0.9"/>
<g stroke="#4b80c2" stroke-width="0.6"><line x1="214" y1="529" x2="200.6" y2="538"/><line x1="175.8" y1="557.2" x2="183.5" y2="569.3"/></g>
<g stroke="#8a8a8a" stroke-width="0.6" fill="none"><line x1="167" y1="621" x2="176.5" y2="619"/><path d="M190.4,630.6 L198.8,637.8 L207.3,630.6"/></g>
<polygon points="176.10,433.90 179.90,427.20 183.70,433.90" fill="#3a74b8" stroke="#222" stroke-width="0.7" stroke-linejoin="round"/>
<polygon points="227.00,434.20 230.80,427.50 234.60,434.20" fill="#3a74b8" stroke="#222" stroke-width="0.7" stroke-linejoin="round"/>
<rect x="230.60" y="428.60" width="5.6" height="5.6" fill="#3a74b8" stroke="#222" stroke-width="0.7"/>
<polygon points="188.40,448.40 192.20,441.70 196.00,448.40" fill="#7b7b7b" stroke="#222" stroke-width="0.7" stroke-linejoin="round"/>
<rect x="243.70" y="502.10" width="5.6" height="5.6" fill="#f2b43c" stroke="#222" stroke-width="0.7"/>
<rect x="328.50" y="504.50" width="5.6" height="5.6" fill="#d8354f" stroke="#222" stroke-width="0.7"/>
<rect x="177.20" y="504.70" width="5.6" height="5.6" fill="#3a74b8" stroke="#222" stroke-width="0.7"/>
<polygon points="257.80,512.90 261.60,506.20 265.40,512.90" fill="#7b7b7b" stroke="#222" stroke-width="0.7" stroke-linejoin="round"/>
<polygon points="169.40,542.20 173.20,535.50 177.00,542.20" fill="#7b7b7b" stroke="#222" stroke-width="0.7" stroke-linejoin="round"/>
<polygon points="193.40,545.10 197.20,538.40 201.00,545.10" fill="#3a74b8" stroke="#222" stroke-width="0.7" stroke-linejoin="round"/>
<rect x="219.00" y="538.60" width="5.6" height="5.6" fill="#f2b43c" stroke="#222" stroke-width="0.7"/>
<rect x="171.70" y="550.80" width="5.6" height="5.6" fill="#3a74b8" stroke="#222" stroke-width="0.7"/>
<rect x="181.90" y="550.40" width="5.6" height="5.6" fill="#7b7b7b" stroke="#222" stroke-width="0.7"/>
<rect x="273.40" y="557.40" width="5.6" height="5.6" fill="#d8354f" stroke="#222" stroke-width="0.7"/>
<polygon points="202.70,568.30 206.50,561.60 210.30,568.30" fill="#3a74b8" stroke="#222" stroke-width="0.7" stroke-linejoin="round"/>
<polygon points="172.20,614.20 176.00,607.50 179.80,614.20" fill="#3a74b8" stroke="#222" stroke-width="0.7" stroke-linejoin="round"/>
<polygon points="159.70,625.40 163.50,618.70 167.30,625.40" fill="#7b7b7b" stroke="#222" stroke-width="0.7" stroke-linejoin="round"/>
<rect x="182.60" y="624.20" width="5.6" height="5.6" fill="#7b7b7b" stroke="#222" stroke-width="0.7"/>
<rect x="209.60" y="624.20" width="5.6" height="5.6" fill="#7b7b7b" stroke="#222" stroke-width="0.7"/>
<text x="147.50" y="424.20" font-size="7.06" fill="#4b80c2" textLength="65.70" lengthAdjust="spacingAndGlyphs">Asp314Gly;Ser315Gly</text>
<text x="236.20" y="424.20" font-size="7.06" fill="#4b80c2" textLength="31.00" lengthAdjust="spacingAndGlyphs">Asp314Asn</text>
<text x="236.20" y="441.90" font-size="7.06" fill="#4b80c2" textLength="65.70" lengthAdjust="spacingAndGlyphs">Asp314Gly;Ser315Gly</text>
<text x="175.50" y="456.90" font-size="7.06" fill="#8a8a8a" textLength="33.30" lengthAdjust="spacingAndGlyphs">Asp368Gly</text>
<text x="229.20" y="500.00" font-size="7.06" fill="#e9a93a" textLength="33.90" lengthAdjust="spacingAndGlyphs">Asp587Asn</text>
<text x="143.90" y="517.60" font-size="7.06" fill="#4b80c2" textLength="70.50" lengthAdjust="spacingAndGlyphs">Cys595Cys;Pro596Leu</text>
<text x="268.20" y="513.40" font-size="7.06" fill="#8a8a8a" textLength="33.00" lengthAdjust="spacingAndGlyphs">Lys609Gly</text>
<text x="311.10" y="485.10" font-size="7.06" fill="#d3405c" textLength="33.30" lengthAdjust="spacingAndGlyphs">Thr594Thr;</text>
<text x="311.10" y="493.50" font-size="7.06" fill="#d3405c" textLength="33.30" lengthAdjust="spacingAndGlyphs">Cys595Cys;</text>
<text x="312.20" y="500.90" font-size="7.06" fill="#d3405c" textLength="31.80" lengthAdjust="spacingAndGlyphs">Pro596Ser</text>
<text x="141.90" y="533.00" font-size="7.06" fill="#8a8a8a" textLength="63.50" lengthAdjust="spacingAndGlyphs">Ile715Val;Lys716Gly</text>
<text x="214.20" y="531.30" font-size="7.06" fill="#4b80c2" textLength="65.50" lengthAdjust="spacingAndGlyphs">Tyr727Cys;Lys728Glu</text>
<text x="227.50" y="543.30" font-size="7.06" fill="#e9a93a" textLength="65.60" lengthAdjust="spacingAndGlyphs">Gly719Gly;Ser720Phe</text>
<text x="190.00" y="556.00" font-size="7.06" fill="#8a8a8a" textLength="29.20" lengthAdjust="spacingAndGlyphs">Val765Ile</text>
<text x="159.00" y="577.30" font-size="7.06" fill="#4b80c2" textLength="64.30" lengthAdjust="spacingAndGlyphs">Val769Ile;Ser768Asn</text>
<text x="281.50" y="558.50" font-size="7.06" fill="#d3405c" textLength="34.90" lengthAdjust="spacingAndGlyphs">Thr790Met;</text>
<text x="281.50" y="566.30" font-size="7.06" fill="#d3405c" textLength="31.00" lengthAdjust="spacingAndGlyphs">Gln791Ter</text>
<text x="213.00" y="568.50" font-size="7.06" fill="#4b80c2" textLength="32.20" lengthAdjust="spacingAndGlyphs">Gln812Arg</text>
<text x="144.20" y="605.00" font-size="7.06" fill="#4b80c2" textLength="63.00" lengthAdjust="spacingAndGlyphs">Ile981Thr;Val980Ala</text>
<text x="177.40" y="622.00" font-size="7.06" fill="#8a8a8a" textLength="35.60" lengthAdjust="spacingAndGlyphs">Phe1024Pro</text>
<text x="162.60" y="646.80" font-size="7.06" fill="#8a8a8a" textLength="73.20" lengthAdjust="spacingAndGlyphs">Exon 25 + 1;Leu1038Leu</text>
<text x="267.60" y="421.00" font-size="4.71" fill="#4b80c2" textLength="2.45" lengthAdjust="spacingAndGlyphs">a</text>
<text x="405.60" y="622.60" font-size="12.50" fill="#000" font-weight="bold" stroke="#000" stroke-width="0.35">e</text>
<path d="M477.1,618.5 V714.2 H636.7" stroke="#a0a0a0" stroke-width="1.0" fill="none"/>
<line x1="474.1" y1="709.40" x2="477.1" y2="709.40" stroke="#999" stroke-width="0.8"/>
<text x="470.30" y="712.20" font-size="8.45" fill="#333" text-anchor="end" textLength="4.39" lengthAdjust="spacingAndGlyphs">0</text>
<line x1="474.1" y1="680.20" x2="477.1" y2="680.20" stroke="#999" stroke-width="0.8"/>
<text x="470.30" y="683.00" font-size="8.45" fill="#333" text-anchor="end" textLength="8.79" lengthAdjust="spacingAndGlyphs">20</text>
<line x1="474.1" y1="651.00" x2="477.1" y2="651.00" stroke="#999" stroke-width="0.8"/>
<text x="470.30" y="653.80" font-size="8.45" fill="#333" text-anchor="end" textLength="8.79" lengthAdjust="spacingAndGlyphs">40</text>
<line x1="474.1" y1="621.80" x2="477.1" y2="621.80" stroke="#999" stroke-width="0.8"/>
<text x="470.30" y="624.60" font-size="8.45" fill="#333" text-anchor="end" textLength="8.79" lengthAdjust="spacingAndGlyphs">60</text>
<line x1="520.3" y1="714.2" x2="520.3" y2="717" stroke="#999" stroke-width="0.8"/>
<line x1="592.9" y1="714.2" x2="592.9" y2="717" stroke="#999" stroke-width="0.8"/>
<rect x="487.6" y="649.98" width="65.9" height="59.42" fill="#9dbbdf" stroke="#6690c4" stroke-width="0.8"/>
<rect x="560.1" y="643.26" width="65.6" height="66.14" fill="#ee9eac" stroke="#d05a70" stroke-width="0.8"/>
<circle cx="520.3" cy="650.6" r="2.7" fill="#3a74b8"/><circle cx="520.3" cy="649.9" r="2.6" fill="#3a74b8"/>
<circle cx="592.9" cy="639.5" r="2.7" fill="#d8354f"/>
<circle cx="592.9" cy="642.6" r="2.7" fill="#d8354f"/>
<circle cx="592.9" cy="645.6" r="2.7" fill="#d8354f"/>
<line x1="520.3" y1="628.2" x2="592.9" y2="628.2" stroke="#444" stroke-width="0.7"/>
<text x="542" y="626.9" font-size="6.8" fill="#333">2.4 × 10<tspan font-size="4.6" dy="-2.8">−5</tspan></text>
<text x="520.30" y="726.60" font-size="8.77" fill="#222" text-anchor="middle" textLength="44.50" lengthAdjust="spacingAndGlyphs">Uninfected</text>
<text x="593.40" y="726.60" font-size="8.77" fill="#222" text-anchor="middle" textLength="43.30" lengthAdjust="spacingAndGlyphs">Exon 25 + 1</text>
<text x="444.60" y="665.80" font-size="9.74" fill="#333" text-anchor="middle" textLength="91.00" lengthAdjust="spacingAndGlyphs" transform="rotate(-90 444.60 665.80)">Relative luminescence</text>
<text x="454.30" y="665.20" font-size="9.63" fill="#333" text-anchor="middle" textLength="43.30" lengthAdjust="spacingAndGlyphs" transform="rotate(-90 454.30 665.20)">(% control)</text>
</svg></body></html>
